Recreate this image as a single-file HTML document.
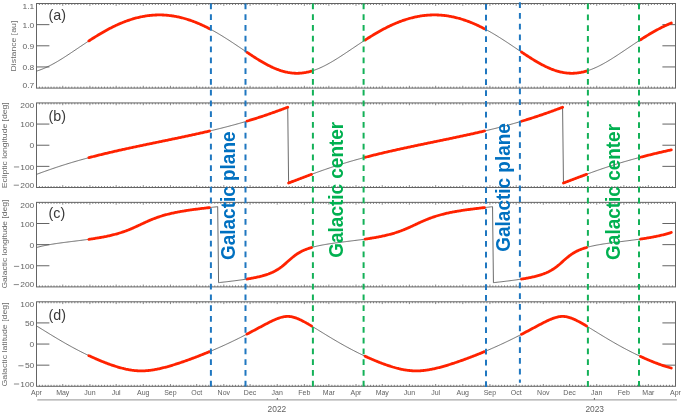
<!DOCTYPE html>
<html><head><meta charset="utf-8"><style>html,body{margin:0;padding:0;background:#fff;}svg{display:block;will-change:transform;}</style></head>
<body>
<svg width="685" height="413" viewBox="0 0 685 413">
<rect width="685" height="413" fill="#fff"/>
<rect x="36.5" y="3.5" width="639.0" height="84.6" fill="none" stroke="#646464" stroke-width="1"/>
<path d="M39.42,3.5v1.5M39.42,88.1v-1.5M42.34,3.5v1.5M42.34,88.1v-1.5M45.25,3.5v1.5M45.25,88.1v-1.5M48.17,3.5v1.5M48.17,88.1v-1.5M51.09,3.5v1.5M51.09,88.1v-1.5M54.01,3.5v1.5M54.01,88.1v-1.5M56.92,3.5v1.5M56.92,88.1v-1.5M59.84,3.5v1.5M59.84,88.1v-1.5M62.76,3.5v2.3M62.76,88.1v-2.3M65.78,3.5v1.5M65.78,88.1v-1.5M68.79,3.5v1.5M68.79,88.1v-1.5M71.81,3.5v1.5M71.81,88.1v-1.5M74.82,3.5v1.5M74.82,88.1v-1.5M77.84,3.5v1.5M77.84,88.1v-1.5M80.85,3.5v1.5M80.85,88.1v-1.5M83.87,3.5v1.5M83.87,88.1v-1.5M86.88,3.5v1.5M86.88,88.1v-1.5M89.90,3.5v2.3M89.90,88.1v-2.3M92.81,3.5v1.5M92.81,88.1v-1.5M95.73,3.5v1.5M95.73,88.1v-1.5M98.65,3.5v1.5M98.65,88.1v-1.5M101.57,3.5v1.5M101.57,88.1v-1.5M104.48,3.5v1.5M104.48,88.1v-1.5M107.40,3.5v1.5M107.40,88.1v-1.5M110.32,3.5v1.5M110.32,88.1v-1.5M113.24,3.5v1.5M113.24,88.1v-1.5M116.16,3.5v2.3M116.16,88.1v-2.3M119.17,3.5v1.5M119.17,88.1v-1.5M122.19,3.5v1.5M122.19,88.1v-1.5M125.20,3.5v1.5M125.20,88.1v-1.5M128.22,3.5v1.5M128.22,88.1v-1.5M131.23,3.5v1.5M131.23,88.1v-1.5M134.25,3.5v1.5M134.25,88.1v-1.5M137.26,3.5v1.5M137.26,88.1v-1.5M140.28,3.5v1.5M140.28,88.1v-1.5M143.29,3.5v2.3M143.29,88.1v-2.3M146.31,3.5v1.5M146.31,88.1v-1.5M149.32,3.5v1.5M149.32,88.1v-1.5M152.34,3.5v1.5M152.34,88.1v-1.5M155.35,3.5v1.5M155.35,88.1v-1.5M158.37,3.5v1.5M158.37,88.1v-1.5M161.38,3.5v1.5M161.38,88.1v-1.5M164.40,3.5v1.5M164.40,88.1v-1.5M167.41,3.5v1.5M167.41,88.1v-1.5M170.43,3.5v2.3M170.43,88.1v-2.3M173.35,3.5v1.5M173.35,88.1v-1.5M176.26,3.5v1.5M176.26,88.1v-1.5M179.18,3.5v1.5M179.18,88.1v-1.5M182.10,3.5v1.5M182.10,88.1v-1.5M185.02,3.5v1.5M185.02,88.1v-1.5M187.93,3.5v1.5M187.93,88.1v-1.5M190.85,3.5v1.5M190.85,88.1v-1.5M193.77,3.5v1.5M193.77,88.1v-1.5M196.69,3.5v2.3M196.69,88.1v-2.3M199.70,3.5v1.5M199.70,88.1v-1.5M202.72,3.5v1.5M202.72,88.1v-1.5M205.73,3.5v1.5M205.73,88.1v-1.5M208.75,3.5v1.5M208.75,88.1v-1.5M211.76,3.5v1.5M211.76,88.1v-1.5M214.78,3.5v1.5M214.78,88.1v-1.5M217.79,3.5v1.5M217.79,88.1v-1.5M220.81,3.5v1.5M220.81,88.1v-1.5M223.82,3.5v2.3M223.82,88.1v-2.3M226.74,3.5v1.5M226.74,88.1v-1.5M229.66,3.5v1.5M229.66,88.1v-1.5M232.58,3.5v1.5M232.58,88.1v-1.5M235.49,3.5v1.5M235.49,88.1v-1.5M238.41,3.5v1.5M238.41,88.1v-1.5M241.33,3.5v1.5M241.33,88.1v-1.5M244.25,3.5v1.5M244.25,88.1v-1.5M247.17,3.5v1.5M247.17,88.1v-1.5M250.08,3.5v2.3M250.08,88.1v-2.3M253.10,3.5v1.5M253.10,88.1v-1.5M256.11,3.5v1.5M256.11,88.1v-1.5M259.13,3.5v1.5M259.13,88.1v-1.5M262.14,3.5v1.5M262.14,88.1v-1.5M265.16,3.5v1.5M265.16,88.1v-1.5M268.17,3.5v1.5M268.17,88.1v-1.5M271.19,3.5v1.5M271.19,88.1v-1.5M274.20,3.5v1.5M274.20,88.1v-1.5M277.22,3.5v2.3M277.22,88.1v-2.3M280.23,3.5v1.5M280.23,88.1v-1.5M283.25,3.5v1.5M283.25,88.1v-1.5M286.26,3.5v1.5M286.26,88.1v-1.5M289.28,3.5v1.5M289.28,88.1v-1.5M292.29,3.5v1.5M292.29,88.1v-1.5M295.31,3.5v1.5M295.31,88.1v-1.5M298.32,3.5v1.5M298.32,88.1v-1.5M301.34,3.5v1.5M301.34,88.1v-1.5M304.35,3.5v2.3M304.35,88.1v-2.3M307.08,3.5v1.5M307.08,88.1v-1.5M309.80,3.5v1.5M309.80,88.1v-1.5M312.52,3.5v1.5M312.52,88.1v-1.5M315.25,3.5v1.5M315.25,88.1v-1.5M317.97,3.5v1.5M317.97,88.1v-1.5M320.69,3.5v1.5M320.69,88.1v-1.5M323.42,3.5v1.5M323.42,88.1v-1.5M326.14,3.5v1.5M326.14,88.1v-1.5M328.86,3.5v2.3M328.86,88.1v-2.3M331.88,3.5v1.5M331.88,88.1v-1.5M334.89,3.5v1.5M334.89,88.1v-1.5M337.91,3.5v1.5M337.91,88.1v-1.5M340.92,3.5v1.5M340.92,88.1v-1.5M343.94,3.5v1.5M343.94,88.1v-1.5M346.95,3.5v1.5M346.95,88.1v-1.5M349.97,3.5v1.5M349.97,88.1v-1.5M352.98,3.5v1.5M352.98,88.1v-1.5M356.00,3.5v2.3M356.00,88.1v-2.3M358.92,3.5v1.5M358.92,88.1v-1.5M361.84,3.5v1.5M361.84,88.1v-1.5M364.75,3.5v1.5M364.75,88.1v-1.5M367.67,3.5v1.5M367.67,88.1v-1.5M370.59,3.5v1.5M370.59,88.1v-1.5M373.51,3.5v1.5M373.51,88.1v-1.5M376.42,3.5v1.5M376.42,88.1v-1.5M379.34,3.5v1.5M379.34,88.1v-1.5M382.26,3.5v2.3M382.26,88.1v-2.3M385.28,3.5v1.5M385.28,88.1v-1.5M388.29,3.5v1.5M388.29,88.1v-1.5M391.31,3.5v1.5M391.31,88.1v-1.5M394.32,3.5v1.5M394.32,88.1v-1.5M397.34,3.5v1.5M397.34,88.1v-1.5M400.35,3.5v1.5M400.35,88.1v-1.5M403.37,3.5v1.5M403.37,88.1v-1.5M406.38,3.5v1.5M406.38,88.1v-1.5M409.40,3.5v2.3M409.40,88.1v-2.3M412.31,3.5v1.5M412.31,88.1v-1.5M415.23,3.5v1.5M415.23,88.1v-1.5M418.15,3.5v1.5M418.15,88.1v-1.5M421.07,3.5v1.5M421.07,88.1v-1.5M423.98,3.5v1.5M423.98,88.1v-1.5M426.90,3.5v1.5M426.90,88.1v-1.5M429.82,3.5v1.5M429.82,88.1v-1.5M432.74,3.5v1.5M432.74,88.1v-1.5M435.66,3.5v2.3M435.66,88.1v-2.3M438.67,3.5v1.5M438.67,88.1v-1.5M441.69,3.5v1.5M441.69,88.1v-1.5M444.70,3.5v1.5M444.70,88.1v-1.5M447.72,3.5v1.5M447.72,88.1v-1.5M450.73,3.5v1.5M450.73,88.1v-1.5M453.75,3.5v1.5M453.75,88.1v-1.5M456.76,3.5v1.5M456.76,88.1v-1.5M459.78,3.5v1.5M459.78,88.1v-1.5M462.79,3.5v2.3M462.79,88.1v-2.3M465.81,3.5v1.5M465.81,88.1v-1.5M468.82,3.5v1.5M468.82,88.1v-1.5M471.84,3.5v1.5M471.84,88.1v-1.5M474.85,3.5v1.5M474.85,88.1v-1.5M477.87,3.5v1.5M477.87,88.1v-1.5M480.88,3.5v1.5M480.88,88.1v-1.5M483.90,3.5v1.5M483.90,88.1v-1.5M486.91,3.5v1.5M486.91,88.1v-1.5M489.93,3.5v2.3M489.93,88.1v-2.3M492.85,3.5v1.5M492.85,88.1v-1.5M495.76,3.5v1.5M495.76,88.1v-1.5M498.68,3.5v1.5M498.68,88.1v-1.5M501.60,3.5v1.5M501.60,88.1v-1.5M504.52,3.5v1.5M504.52,88.1v-1.5M507.43,3.5v1.5M507.43,88.1v-1.5M510.35,3.5v1.5M510.35,88.1v-1.5M513.27,3.5v1.5M513.27,88.1v-1.5M516.19,3.5v2.3M516.19,88.1v-2.3M519.20,3.5v1.5M519.20,88.1v-1.5M522.22,3.5v1.5M522.22,88.1v-1.5M525.23,3.5v1.5M525.23,88.1v-1.5M528.25,3.5v1.5M528.25,88.1v-1.5M531.26,3.5v1.5M531.26,88.1v-1.5M534.28,3.5v1.5M534.28,88.1v-1.5M537.29,3.5v1.5M537.29,88.1v-1.5M540.31,3.5v1.5M540.31,88.1v-1.5M543.32,3.5v2.3M543.32,88.1v-2.3M546.24,3.5v1.5M546.24,88.1v-1.5M549.16,3.5v1.5M549.16,88.1v-1.5M552.08,3.5v1.5M552.08,88.1v-1.5M554.99,3.5v1.5M554.99,88.1v-1.5M557.91,3.5v1.5M557.91,88.1v-1.5M560.83,3.5v1.5M560.83,88.1v-1.5M563.75,3.5v1.5M563.75,88.1v-1.5M566.67,3.5v1.5M566.67,88.1v-1.5M569.58,3.5v2.3M569.58,88.1v-2.3M572.60,3.5v1.5M572.60,88.1v-1.5M575.61,3.5v1.5M575.61,88.1v-1.5M578.63,3.5v1.5M578.63,88.1v-1.5M581.64,3.5v1.5M581.64,88.1v-1.5M584.66,3.5v1.5M584.66,88.1v-1.5M587.67,3.5v1.5M587.67,88.1v-1.5M590.69,3.5v1.5M590.69,88.1v-1.5M593.70,3.5v1.5M593.70,88.1v-1.5M596.72,3.5v2.3M596.72,88.1v-2.3M599.73,3.5v1.5M599.73,88.1v-1.5M602.75,3.5v1.5M602.75,88.1v-1.5M605.76,3.5v1.5M605.76,88.1v-1.5M608.78,3.5v1.5M608.78,88.1v-1.5M611.79,3.5v1.5M611.79,88.1v-1.5M614.81,3.5v1.5M614.81,88.1v-1.5M617.82,3.5v1.5M617.82,88.1v-1.5M620.84,3.5v1.5M620.84,88.1v-1.5M623.85,3.5v2.3M623.85,88.1v-2.3M626.58,3.5v1.5M626.58,88.1v-1.5M629.30,3.5v1.5M629.30,88.1v-1.5M632.02,3.5v1.5M632.02,88.1v-1.5M634.75,3.5v1.5M634.75,88.1v-1.5M637.47,3.5v1.5M637.47,88.1v-1.5M640.19,3.5v1.5M640.19,88.1v-1.5M642.92,3.5v1.5M642.92,88.1v-1.5M645.64,3.5v1.5M645.64,88.1v-1.5M648.36,3.5v2.3M648.36,88.1v-2.3M651.38,3.5v1.5M651.38,88.1v-1.5M654.39,3.5v1.5M654.39,88.1v-1.5M657.41,3.5v1.5M657.41,88.1v-1.5M660.42,3.5v1.5M660.42,88.1v-1.5M663.44,3.5v1.5M663.44,88.1v-1.5M666.45,3.5v1.5M666.45,88.1v-1.5M669.47,3.5v1.5M669.47,88.1v-1.5M672.48,3.5v1.5M672.48,88.1v-1.5" stroke="#646464" stroke-width="0.8" fill="none"/>
<path d="M36.5,24.65h12.9M675.5,24.65h-13.1M36.5,45.80h12.9M675.5,45.80h-13.1M36.5,66.95h12.9M675.5,66.95h-13.1" stroke="#646464" stroke-width="1" fill="none"/>
<rect x="36.5" y="102.93" width="639.0" height="84.57" fill="none" stroke="#646464" stroke-width="1"/>
<path d="M39.42,102.93v1.5M39.42,187.5v-1.5M42.34,102.93v1.5M42.34,187.5v-1.5M45.25,102.93v1.5M45.25,187.5v-1.5M48.17,102.93v1.5M48.17,187.5v-1.5M51.09,102.93v1.5M51.09,187.5v-1.5M54.01,102.93v1.5M54.01,187.5v-1.5M56.92,102.93v1.5M56.92,187.5v-1.5M59.84,102.93v1.5M59.84,187.5v-1.5M62.76,102.93v2.3M62.76,187.5v-2.3M65.78,102.93v1.5M65.78,187.5v-1.5M68.79,102.93v1.5M68.79,187.5v-1.5M71.81,102.93v1.5M71.81,187.5v-1.5M74.82,102.93v1.5M74.82,187.5v-1.5M77.84,102.93v1.5M77.84,187.5v-1.5M80.85,102.93v1.5M80.85,187.5v-1.5M83.87,102.93v1.5M83.87,187.5v-1.5M86.88,102.93v1.5M86.88,187.5v-1.5M89.90,102.93v2.3M89.90,187.5v-2.3M92.81,102.93v1.5M92.81,187.5v-1.5M95.73,102.93v1.5M95.73,187.5v-1.5M98.65,102.93v1.5M98.65,187.5v-1.5M101.57,102.93v1.5M101.57,187.5v-1.5M104.48,102.93v1.5M104.48,187.5v-1.5M107.40,102.93v1.5M107.40,187.5v-1.5M110.32,102.93v1.5M110.32,187.5v-1.5M113.24,102.93v1.5M113.24,187.5v-1.5M116.16,102.93v2.3M116.16,187.5v-2.3M119.17,102.93v1.5M119.17,187.5v-1.5M122.19,102.93v1.5M122.19,187.5v-1.5M125.20,102.93v1.5M125.20,187.5v-1.5M128.22,102.93v1.5M128.22,187.5v-1.5M131.23,102.93v1.5M131.23,187.5v-1.5M134.25,102.93v1.5M134.25,187.5v-1.5M137.26,102.93v1.5M137.26,187.5v-1.5M140.28,102.93v1.5M140.28,187.5v-1.5M143.29,102.93v2.3M143.29,187.5v-2.3M146.31,102.93v1.5M146.31,187.5v-1.5M149.32,102.93v1.5M149.32,187.5v-1.5M152.34,102.93v1.5M152.34,187.5v-1.5M155.35,102.93v1.5M155.35,187.5v-1.5M158.37,102.93v1.5M158.37,187.5v-1.5M161.38,102.93v1.5M161.38,187.5v-1.5M164.40,102.93v1.5M164.40,187.5v-1.5M167.41,102.93v1.5M167.41,187.5v-1.5M170.43,102.93v2.3M170.43,187.5v-2.3M173.35,102.93v1.5M173.35,187.5v-1.5M176.26,102.93v1.5M176.26,187.5v-1.5M179.18,102.93v1.5M179.18,187.5v-1.5M182.10,102.93v1.5M182.10,187.5v-1.5M185.02,102.93v1.5M185.02,187.5v-1.5M187.93,102.93v1.5M187.93,187.5v-1.5M190.85,102.93v1.5M190.85,187.5v-1.5M193.77,102.93v1.5M193.77,187.5v-1.5M196.69,102.93v2.3M196.69,187.5v-2.3M199.70,102.93v1.5M199.70,187.5v-1.5M202.72,102.93v1.5M202.72,187.5v-1.5M205.73,102.93v1.5M205.73,187.5v-1.5M208.75,102.93v1.5M208.75,187.5v-1.5M211.76,102.93v1.5M211.76,187.5v-1.5M214.78,102.93v1.5M214.78,187.5v-1.5M217.79,102.93v1.5M217.79,187.5v-1.5M220.81,102.93v1.5M220.81,187.5v-1.5M223.82,102.93v2.3M223.82,187.5v-2.3M226.74,102.93v1.5M226.74,187.5v-1.5M229.66,102.93v1.5M229.66,187.5v-1.5M232.58,102.93v1.5M232.58,187.5v-1.5M235.49,102.93v1.5M235.49,187.5v-1.5M238.41,102.93v1.5M238.41,187.5v-1.5M241.33,102.93v1.5M241.33,187.5v-1.5M244.25,102.93v1.5M244.25,187.5v-1.5M247.17,102.93v1.5M247.17,187.5v-1.5M250.08,102.93v2.3M250.08,187.5v-2.3M253.10,102.93v1.5M253.10,187.5v-1.5M256.11,102.93v1.5M256.11,187.5v-1.5M259.13,102.93v1.5M259.13,187.5v-1.5M262.14,102.93v1.5M262.14,187.5v-1.5M265.16,102.93v1.5M265.16,187.5v-1.5M268.17,102.93v1.5M268.17,187.5v-1.5M271.19,102.93v1.5M271.19,187.5v-1.5M274.20,102.93v1.5M274.20,187.5v-1.5M277.22,102.93v2.3M277.22,187.5v-2.3M280.23,102.93v1.5M280.23,187.5v-1.5M283.25,102.93v1.5M283.25,187.5v-1.5M286.26,102.93v1.5M286.26,187.5v-1.5M289.28,102.93v1.5M289.28,187.5v-1.5M292.29,102.93v1.5M292.29,187.5v-1.5M295.31,102.93v1.5M295.31,187.5v-1.5M298.32,102.93v1.5M298.32,187.5v-1.5M301.34,102.93v1.5M301.34,187.5v-1.5M304.35,102.93v2.3M304.35,187.5v-2.3M307.08,102.93v1.5M307.08,187.5v-1.5M309.80,102.93v1.5M309.80,187.5v-1.5M312.52,102.93v1.5M312.52,187.5v-1.5M315.25,102.93v1.5M315.25,187.5v-1.5M317.97,102.93v1.5M317.97,187.5v-1.5M320.69,102.93v1.5M320.69,187.5v-1.5M323.42,102.93v1.5M323.42,187.5v-1.5M326.14,102.93v1.5M326.14,187.5v-1.5M328.86,102.93v2.3M328.86,187.5v-2.3M331.88,102.93v1.5M331.88,187.5v-1.5M334.89,102.93v1.5M334.89,187.5v-1.5M337.91,102.93v1.5M337.91,187.5v-1.5M340.92,102.93v1.5M340.92,187.5v-1.5M343.94,102.93v1.5M343.94,187.5v-1.5M346.95,102.93v1.5M346.95,187.5v-1.5M349.97,102.93v1.5M349.97,187.5v-1.5M352.98,102.93v1.5M352.98,187.5v-1.5M356.00,102.93v2.3M356.00,187.5v-2.3M358.92,102.93v1.5M358.92,187.5v-1.5M361.84,102.93v1.5M361.84,187.5v-1.5M364.75,102.93v1.5M364.75,187.5v-1.5M367.67,102.93v1.5M367.67,187.5v-1.5M370.59,102.93v1.5M370.59,187.5v-1.5M373.51,102.93v1.5M373.51,187.5v-1.5M376.42,102.93v1.5M376.42,187.5v-1.5M379.34,102.93v1.5M379.34,187.5v-1.5M382.26,102.93v2.3M382.26,187.5v-2.3M385.28,102.93v1.5M385.28,187.5v-1.5M388.29,102.93v1.5M388.29,187.5v-1.5M391.31,102.93v1.5M391.31,187.5v-1.5M394.32,102.93v1.5M394.32,187.5v-1.5M397.34,102.93v1.5M397.34,187.5v-1.5M400.35,102.93v1.5M400.35,187.5v-1.5M403.37,102.93v1.5M403.37,187.5v-1.5M406.38,102.93v1.5M406.38,187.5v-1.5M409.40,102.93v2.3M409.40,187.5v-2.3M412.31,102.93v1.5M412.31,187.5v-1.5M415.23,102.93v1.5M415.23,187.5v-1.5M418.15,102.93v1.5M418.15,187.5v-1.5M421.07,102.93v1.5M421.07,187.5v-1.5M423.98,102.93v1.5M423.98,187.5v-1.5M426.90,102.93v1.5M426.90,187.5v-1.5M429.82,102.93v1.5M429.82,187.5v-1.5M432.74,102.93v1.5M432.74,187.5v-1.5M435.66,102.93v2.3M435.66,187.5v-2.3M438.67,102.93v1.5M438.67,187.5v-1.5M441.69,102.93v1.5M441.69,187.5v-1.5M444.70,102.93v1.5M444.70,187.5v-1.5M447.72,102.93v1.5M447.72,187.5v-1.5M450.73,102.93v1.5M450.73,187.5v-1.5M453.75,102.93v1.5M453.75,187.5v-1.5M456.76,102.93v1.5M456.76,187.5v-1.5M459.78,102.93v1.5M459.78,187.5v-1.5M462.79,102.93v2.3M462.79,187.5v-2.3M465.81,102.93v1.5M465.81,187.5v-1.5M468.82,102.93v1.5M468.82,187.5v-1.5M471.84,102.93v1.5M471.84,187.5v-1.5M474.85,102.93v1.5M474.85,187.5v-1.5M477.87,102.93v1.5M477.87,187.5v-1.5M480.88,102.93v1.5M480.88,187.5v-1.5M483.90,102.93v1.5M483.90,187.5v-1.5M486.91,102.93v1.5M486.91,187.5v-1.5M489.93,102.93v2.3M489.93,187.5v-2.3M492.85,102.93v1.5M492.85,187.5v-1.5M495.76,102.93v1.5M495.76,187.5v-1.5M498.68,102.93v1.5M498.68,187.5v-1.5M501.60,102.93v1.5M501.60,187.5v-1.5M504.52,102.93v1.5M504.52,187.5v-1.5M507.43,102.93v1.5M507.43,187.5v-1.5M510.35,102.93v1.5M510.35,187.5v-1.5M513.27,102.93v1.5M513.27,187.5v-1.5M516.19,102.93v2.3M516.19,187.5v-2.3M519.20,102.93v1.5M519.20,187.5v-1.5M522.22,102.93v1.5M522.22,187.5v-1.5M525.23,102.93v1.5M525.23,187.5v-1.5M528.25,102.93v1.5M528.25,187.5v-1.5M531.26,102.93v1.5M531.26,187.5v-1.5M534.28,102.93v1.5M534.28,187.5v-1.5M537.29,102.93v1.5M537.29,187.5v-1.5M540.31,102.93v1.5M540.31,187.5v-1.5M543.32,102.93v2.3M543.32,187.5v-2.3M546.24,102.93v1.5M546.24,187.5v-1.5M549.16,102.93v1.5M549.16,187.5v-1.5M552.08,102.93v1.5M552.08,187.5v-1.5M554.99,102.93v1.5M554.99,187.5v-1.5M557.91,102.93v1.5M557.91,187.5v-1.5M560.83,102.93v1.5M560.83,187.5v-1.5M563.75,102.93v1.5M563.75,187.5v-1.5M566.67,102.93v1.5M566.67,187.5v-1.5M569.58,102.93v2.3M569.58,187.5v-2.3M572.60,102.93v1.5M572.60,187.5v-1.5M575.61,102.93v1.5M575.61,187.5v-1.5M578.63,102.93v1.5M578.63,187.5v-1.5M581.64,102.93v1.5M581.64,187.5v-1.5M584.66,102.93v1.5M584.66,187.5v-1.5M587.67,102.93v1.5M587.67,187.5v-1.5M590.69,102.93v1.5M590.69,187.5v-1.5M593.70,102.93v1.5M593.70,187.5v-1.5M596.72,102.93v2.3M596.72,187.5v-2.3M599.73,102.93v1.5M599.73,187.5v-1.5M602.75,102.93v1.5M602.75,187.5v-1.5M605.76,102.93v1.5M605.76,187.5v-1.5M608.78,102.93v1.5M608.78,187.5v-1.5M611.79,102.93v1.5M611.79,187.5v-1.5M614.81,102.93v1.5M614.81,187.5v-1.5M617.82,102.93v1.5M617.82,187.5v-1.5M620.84,102.93v1.5M620.84,187.5v-1.5M623.85,102.93v2.3M623.85,187.5v-2.3M626.58,102.93v1.5M626.58,187.5v-1.5M629.30,102.93v1.5M629.30,187.5v-1.5M632.02,102.93v1.5M632.02,187.5v-1.5M634.75,102.93v1.5M634.75,187.5v-1.5M637.47,102.93v1.5M637.47,187.5v-1.5M640.19,102.93v1.5M640.19,187.5v-1.5M642.92,102.93v1.5M642.92,187.5v-1.5M645.64,102.93v1.5M645.64,187.5v-1.5M648.36,102.93v2.3M648.36,187.5v-2.3M651.38,102.93v1.5M651.38,187.5v-1.5M654.39,102.93v1.5M654.39,187.5v-1.5M657.41,102.93v1.5M657.41,187.5v-1.5M660.42,102.93v1.5M660.42,187.5v-1.5M663.44,102.93v1.5M663.44,187.5v-1.5M666.45,102.93v1.5M666.45,187.5v-1.5M669.47,102.93v1.5M669.47,187.5v-1.5M672.48,102.93v1.5M672.48,187.5v-1.5" stroke="#646464" stroke-width="0.8" fill="none"/>
<path d="M36.5,124.07h12.9M675.5,124.07h-13.1M36.5,145.22h12.9M675.5,145.22h-13.1M36.5,166.36h12.9M675.5,166.36h-13.1" stroke="#646464" stroke-width="1" fill="none"/>
<rect x="36.5" y="202.36" width="639.0" height="84.53999999999996" fill="none" stroke="#646464" stroke-width="1"/>
<path d="M39.42,202.36v1.5M39.42,286.9v-1.5M42.34,202.36v1.5M42.34,286.9v-1.5M45.25,202.36v1.5M45.25,286.9v-1.5M48.17,202.36v1.5M48.17,286.9v-1.5M51.09,202.36v1.5M51.09,286.9v-1.5M54.01,202.36v1.5M54.01,286.9v-1.5M56.92,202.36v1.5M56.92,286.9v-1.5M59.84,202.36v1.5M59.84,286.9v-1.5M62.76,202.36v2.3M62.76,286.9v-2.3M65.78,202.36v1.5M65.78,286.9v-1.5M68.79,202.36v1.5M68.79,286.9v-1.5M71.81,202.36v1.5M71.81,286.9v-1.5M74.82,202.36v1.5M74.82,286.9v-1.5M77.84,202.36v1.5M77.84,286.9v-1.5M80.85,202.36v1.5M80.85,286.9v-1.5M83.87,202.36v1.5M83.87,286.9v-1.5M86.88,202.36v1.5M86.88,286.9v-1.5M89.90,202.36v2.3M89.90,286.9v-2.3M92.81,202.36v1.5M92.81,286.9v-1.5M95.73,202.36v1.5M95.73,286.9v-1.5M98.65,202.36v1.5M98.65,286.9v-1.5M101.57,202.36v1.5M101.57,286.9v-1.5M104.48,202.36v1.5M104.48,286.9v-1.5M107.40,202.36v1.5M107.40,286.9v-1.5M110.32,202.36v1.5M110.32,286.9v-1.5M113.24,202.36v1.5M113.24,286.9v-1.5M116.16,202.36v2.3M116.16,286.9v-2.3M119.17,202.36v1.5M119.17,286.9v-1.5M122.19,202.36v1.5M122.19,286.9v-1.5M125.20,202.36v1.5M125.20,286.9v-1.5M128.22,202.36v1.5M128.22,286.9v-1.5M131.23,202.36v1.5M131.23,286.9v-1.5M134.25,202.36v1.5M134.25,286.9v-1.5M137.26,202.36v1.5M137.26,286.9v-1.5M140.28,202.36v1.5M140.28,286.9v-1.5M143.29,202.36v2.3M143.29,286.9v-2.3M146.31,202.36v1.5M146.31,286.9v-1.5M149.32,202.36v1.5M149.32,286.9v-1.5M152.34,202.36v1.5M152.34,286.9v-1.5M155.35,202.36v1.5M155.35,286.9v-1.5M158.37,202.36v1.5M158.37,286.9v-1.5M161.38,202.36v1.5M161.38,286.9v-1.5M164.40,202.36v1.5M164.40,286.9v-1.5M167.41,202.36v1.5M167.41,286.9v-1.5M170.43,202.36v2.3M170.43,286.9v-2.3M173.35,202.36v1.5M173.35,286.9v-1.5M176.26,202.36v1.5M176.26,286.9v-1.5M179.18,202.36v1.5M179.18,286.9v-1.5M182.10,202.36v1.5M182.10,286.9v-1.5M185.02,202.36v1.5M185.02,286.9v-1.5M187.93,202.36v1.5M187.93,286.9v-1.5M190.85,202.36v1.5M190.85,286.9v-1.5M193.77,202.36v1.5M193.77,286.9v-1.5M196.69,202.36v2.3M196.69,286.9v-2.3M199.70,202.36v1.5M199.70,286.9v-1.5M202.72,202.36v1.5M202.72,286.9v-1.5M205.73,202.36v1.5M205.73,286.9v-1.5M208.75,202.36v1.5M208.75,286.9v-1.5M211.76,202.36v1.5M211.76,286.9v-1.5M214.78,202.36v1.5M214.78,286.9v-1.5M217.79,202.36v1.5M217.79,286.9v-1.5M220.81,202.36v1.5M220.81,286.9v-1.5M223.82,202.36v2.3M223.82,286.9v-2.3M226.74,202.36v1.5M226.74,286.9v-1.5M229.66,202.36v1.5M229.66,286.9v-1.5M232.58,202.36v1.5M232.58,286.9v-1.5M235.49,202.36v1.5M235.49,286.9v-1.5M238.41,202.36v1.5M238.41,286.9v-1.5M241.33,202.36v1.5M241.33,286.9v-1.5M244.25,202.36v1.5M244.25,286.9v-1.5M247.17,202.36v1.5M247.17,286.9v-1.5M250.08,202.36v2.3M250.08,286.9v-2.3M253.10,202.36v1.5M253.10,286.9v-1.5M256.11,202.36v1.5M256.11,286.9v-1.5M259.13,202.36v1.5M259.13,286.9v-1.5M262.14,202.36v1.5M262.14,286.9v-1.5M265.16,202.36v1.5M265.16,286.9v-1.5M268.17,202.36v1.5M268.17,286.9v-1.5M271.19,202.36v1.5M271.19,286.9v-1.5M274.20,202.36v1.5M274.20,286.9v-1.5M277.22,202.36v2.3M277.22,286.9v-2.3M280.23,202.36v1.5M280.23,286.9v-1.5M283.25,202.36v1.5M283.25,286.9v-1.5M286.26,202.36v1.5M286.26,286.9v-1.5M289.28,202.36v1.5M289.28,286.9v-1.5M292.29,202.36v1.5M292.29,286.9v-1.5M295.31,202.36v1.5M295.31,286.9v-1.5M298.32,202.36v1.5M298.32,286.9v-1.5M301.34,202.36v1.5M301.34,286.9v-1.5M304.35,202.36v2.3M304.35,286.9v-2.3M307.08,202.36v1.5M307.08,286.9v-1.5M309.80,202.36v1.5M309.80,286.9v-1.5M312.52,202.36v1.5M312.52,286.9v-1.5M315.25,202.36v1.5M315.25,286.9v-1.5M317.97,202.36v1.5M317.97,286.9v-1.5M320.69,202.36v1.5M320.69,286.9v-1.5M323.42,202.36v1.5M323.42,286.9v-1.5M326.14,202.36v1.5M326.14,286.9v-1.5M328.86,202.36v2.3M328.86,286.9v-2.3M331.88,202.36v1.5M331.88,286.9v-1.5M334.89,202.36v1.5M334.89,286.9v-1.5M337.91,202.36v1.5M337.91,286.9v-1.5M340.92,202.36v1.5M340.92,286.9v-1.5M343.94,202.36v1.5M343.94,286.9v-1.5M346.95,202.36v1.5M346.95,286.9v-1.5M349.97,202.36v1.5M349.97,286.9v-1.5M352.98,202.36v1.5M352.98,286.9v-1.5M356.00,202.36v2.3M356.00,286.9v-2.3M358.92,202.36v1.5M358.92,286.9v-1.5M361.84,202.36v1.5M361.84,286.9v-1.5M364.75,202.36v1.5M364.75,286.9v-1.5M367.67,202.36v1.5M367.67,286.9v-1.5M370.59,202.36v1.5M370.59,286.9v-1.5M373.51,202.36v1.5M373.51,286.9v-1.5M376.42,202.36v1.5M376.42,286.9v-1.5M379.34,202.36v1.5M379.34,286.9v-1.5M382.26,202.36v2.3M382.26,286.9v-2.3M385.28,202.36v1.5M385.28,286.9v-1.5M388.29,202.36v1.5M388.29,286.9v-1.5M391.31,202.36v1.5M391.31,286.9v-1.5M394.32,202.36v1.5M394.32,286.9v-1.5M397.34,202.36v1.5M397.34,286.9v-1.5M400.35,202.36v1.5M400.35,286.9v-1.5M403.37,202.36v1.5M403.37,286.9v-1.5M406.38,202.36v1.5M406.38,286.9v-1.5M409.40,202.36v2.3M409.40,286.9v-2.3M412.31,202.36v1.5M412.31,286.9v-1.5M415.23,202.36v1.5M415.23,286.9v-1.5M418.15,202.36v1.5M418.15,286.9v-1.5M421.07,202.36v1.5M421.07,286.9v-1.5M423.98,202.36v1.5M423.98,286.9v-1.5M426.90,202.36v1.5M426.90,286.9v-1.5M429.82,202.36v1.5M429.82,286.9v-1.5M432.74,202.36v1.5M432.74,286.9v-1.5M435.66,202.36v2.3M435.66,286.9v-2.3M438.67,202.36v1.5M438.67,286.9v-1.5M441.69,202.36v1.5M441.69,286.9v-1.5M444.70,202.36v1.5M444.70,286.9v-1.5M447.72,202.36v1.5M447.72,286.9v-1.5M450.73,202.36v1.5M450.73,286.9v-1.5M453.75,202.36v1.5M453.75,286.9v-1.5M456.76,202.36v1.5M456.76,286.9v-1.5M459.78,202.36v1.5M459.78,286.9v-1.5M462.79,202.36v2.3M462.79,286.9v-2.3M465.81,202.36v1.5M465.81,286.9v-1.5M468.82,202.36v1.5M468.82,286.9v-1.5M471.84,202.36v1.5M471.84,286.9v-1.5M474.85,202.36v1.5M474.85,286.9v-1.5M477.87,202.36v1.5M477.87,286.9v-1.5M480.88,202.36v1.5M480.88,286.9v-1.5M483.90,202.36v1.5M483.90,286.9v-1.5M486.91,202.36v1.5M486.91,286.9v-1.5M489.93,202.36v2.3M489.93,286.9v-2.3M492.85,202.36v1.5M492.85,286.9v-1.5M495.76,202.36v1.5M495.76,286.9v-1.5M498.68,202.36v1.5M498.68,286.9v-1.5M501.60,202.36v1.5M501.60,286.9v-1.5M504.52,202.36v1.5M504.52,286.9v-1.5M507.43,202.36v1.5M507.43,286.9v-1.5M510.35,202.36v1.5M510.35,286.9v-1.5M513.27,202.36v1.5M513.27,286.9v-1.5M516.19,202.36v2.3M516.19,286.9v-2.3M519.20,202.36v1.5M519.20,286.9v-1.5M522.22,202.36v1.5M522.22,286.9v-1.5M525.23,202.36v1.5M525.23,286.9v-1.5M528.25,202.36v1.5M528.25,286.9v-1.5M531.26,202.36v1.5M531.26,286.9v-1.5M534.28,202.36v1.5M534.28,286.9v-1.5M537.29,202.36v1.5M537.29,286.9v-1.5M540.31,202.36v1.5M540.31,286.9v-1.5M543.32,202.36v2.3M543.32,286.9v-2.3M546.24,202.36v1.5M546.24,286.9v-1.5M549.16,202.36v1.5M549.16,286.9v-1.5M552.08,202.36v1.5M552.08,286.9v-1.5M554.99,202.36v1.5M554.99,286.9v-1.5M557.91,202.36v1.5M557.91,286.9v-1.5M560.83,202.36v1.5M560.83,286.9v-1.5M563.75,202.36v1.5M563.75,286.9v-1.5M566.67,202.36v1.5M566.67,286.9v-1.5M569.58,202.36v2.3M569.58,286.9v-2.3M572.60,202.36v1.5M572.60,286.9v-1.5M575.61,202.36v1.5M575.61,286.9v-1.5M578.63,202.36v1.5M578.63,286.9v-1.5M581.64,202.36v1.5M581.64,286.9v-1.5M584.66,202.36v1.5M584.66,286.9v-1.5M587.67,202.36v1.5M587.67,286.9v-1.5M590.69,202.36v1.5M590.69,286.9v-1.5M593.70,202.36v1.5M593.70,286.9v-1.5M596.72,202.36v2.3M596.72,286.9v-2.3M599.73,202.36v1.5M599.73,286.9v-1.5M602.75,202.36v1.5M602.75,286.9v-1.5M605.76,202.36v1.5M605.76,286.9v-1.5M608.78,202.36v1.5M608.78,286.9v-1.5M611.79,202.36v1.5M611.79,286.9v-1.5M614.81,202.36v1.5M614.81,286.9v-1.5M617.82,202.36v1.5M617.82,286.9v-1.5M620.84,202.36v1.5M620.84,286.9v-1.5M623.85,202.36v2.3M623.85,286.9v-2.3M626.58,202.36v1.5M626.58,286.9v-1.5M629.30,202.36v1.5M629.30,286.9v-1.5M632.02,202.36v1.5M632.02,286.9v-1.5M634.75,202.36v1.5M634.75,286.9v-1.5M637.47,202.36v1.5M637.47,286.9v-1.5M640.19,202.36v1.5M640.19,286.9v-1.5M642.92,202.36v1.5M642.92,286.9v-1.5M645.64,202.36v1.5M645.64,286.9v-1.5M648.36,202.36v2.3M648.36,286.9v-2.3M651.38,202.36v1.5M651.38,286.9v-1.5M654.39,202.36v1.5M654.39,286.9v-1.5M657.41,202.36v1.5M657.41,286.9v-1.5M660.42,202.36v1.5M660.42,286.9v-1.5M663.44,202.36v1.5M663.44,286.9v-1.5M666.45,202.36v1.5M666.45,286.9v-1.5M669.47,202.36v1.5M669.47,286.9v-1.5M672.48,202.36v1.5M672.48,286.9v-1.5" stroke="#646464" stroke-width="0.8" fill="none"/>
<path d="M36.5,223.50h12.9M675.5,223.50h-13.1M36.5,244.63h12.9M675.5,244.63h-13.1M36.5,265.76h12.9M675.5,265.76h-13.1" stroke="#646464" stroke-width="1" fill="none"/>
<rect x="36.5" y="301.79" width="639.0" height="84.51000000000005" fill="none" stroke="#646464" stroke-width="1"/>
<path d="M39.42,301.79v1.5M39.42,386.30000000000007v-1.5M42.34,301.79v1.5M42.34,386.30000000000007v-1.5M45.25,301.79v1.5M45.25,386.30000000000007v-1.5M48.17,301.79v1.5M48.17,386.30000000000007v-1.5M51.09,301.79v1.5M51.09,386.30000000000007v-1.5M54.01,301.79v1.5M54.01,386.30000000000007v-1.5M56.92,301.79v1.5M56.92,386.30000000000007v-1.5M59.84,301.79v1.5M59.84,386.30000000000007v-1.5M62.76,301.79v2.3M62.76,386.30000000000007v-2.3M65.78,301.79v1.5M65.78,386.30000000000007v-1.5M68.79,301.79v1.5M68.79,386.30000000000007v-1.5M71.81,301.79v1.5M71.81,386.30000000000007v-1.5M74.82,301.79v1.5M74.82,386.30000000000007v-1.5M77.84,301.79v1.5M77.84,386.30000000000007v-1.5M80.85,301.79v1.5M80.85,386.30000000000007v-1.5M83.87,301.79v1.5M83.87,386.30000000000007v-1.5M86.88,301.79v1.5M86.88,386.30000000000007v-1.5M89.90,301.79v2.3M89.90,386.30000000000007v-2.3M92.81,301.79v1.5M92.81,386.30000000000007v-1.5M95.73,301.79v1.5M95.73,386.30000000000007v-1.5M98.65,301.79v1.5M98.65,386.30000000000007v-1.5M101.57,301.79v1.5M101.57,386.30000000000007v-1.5M104.48,301.79v1.5M104.48,386.30000000000007v-1.5M107.40,301.79v1.5M107.40,386.30000000000007v-1.5M110.32,301.79v1.5M110.32,386.30000000000007v-1.5M113.24,301.79v1.5M113.24,386.30000000000007v-1.5M116.16,301.79v2.3M116.16,386.30000000000007v-2.3M119.17,301.79v1.5M119.17,386.30000000000007v-1.5M122.19,301.79v1.5M122.19,386.30000000000007v-1.5M125.20,301.79v1.5M125.20,386.30000000000007v-1.5M128.22,301.79v1.5M128.22,386.30000000000007v-1.5M131.23,301.79v1.5M131.23,386.30000000000007v-1.5M134.25,301.79v1.5M134.25,386.30000000000007v-1.5M137.26,301.79v1.5M137.26,386.30000000000007v-1.5M140.28,301.79v1.5M140.28,386.30000000000007v-1.5M143.29,301.79v2.3M143.29,386.30000000000007v-2.3M146.31,301.79v1.5M146.31,386.30000000000007v-1.5M149.32,301.79v1.5M149.32,386.30000000000007v-1.5M152.34,301.79v1.5M152.34,386.30000000000007v-1.5M155.35,301.79v1.5M155.35,386.30000000000007v-1.5M158.37,301.79v1.5M158.37,386.30000000000007v-1.5M161.38,301.79v1.5M161.38,386.30000000000007v-1.5M164.40,301.79v1.5M164.40,386.30000000000007v-1.5M167.41,301.79v1.5M167.41,386.30000000000007v-1.5M170.43,301.79v2.3M170.43,386.30000000000007v-2.3M173.35,301.79v1.5M173.35,386.30000000000007v-1.5M176.26,301.79v1.5M176.26,386.30000000000007v-1.5M179.18,301.79v1.5M179.18,386.30000000000007v-1.5M182.10,301.79v1.5M182.10,386.30000000000007v-1.5M185.02,301.79v1.5M185.02,386.30000000000007v-1.5M187.93,301.79v1.5M187.93,386.30000000000007v-1.5M190.85,301.79v1.5M190.85,386.30000000000007v-1.5M193.77,301.79v1.5M193.77,386.30000000000007v-1.5M196.69,301.79v2.3M196.69,386.30000000000007v-2.3M199.70,301.79v1.5M199.70,386.30000000000007v-1.5M202.72,301.79v1.5M202.72,386.30000000000007v-1.5M205.73,301.79v1.5M205.73,386.30000000000007v-1.5M208.75,301.79v1.5M208.75,386.30000000000007v-1.5M211.76,301.79v1.5M211.76,386.30000000000007v-1.5M214.78,301.79v1.5M214.78,386.30000000000007v-1.5M217.79,301.79v1.5M217.79,386.30000000000007v-1.5M220.81,301.79v1.5M220.81,386.30000000000007v-1.5M223.82,301.79v2.3M223.82,386.30000000000007v-2.3M226.74,301.79v1.5M226.74,386.30000000000007v-1.5M229.66,301.79v1.5M229.66,386.30000000000007v-1.5M232.58,301.79v1.5M232.58,386.30000000000007v-1.5M235.49,301.79v1.5M235.49,386.30000000000007v-1.5M238.41,301.79v1.5M238.41,386.30000000000007v-1.5M241.33,301.79v1.5M241.33,386.30000000000007v-1.5M244.25,301.79v1.5M244.25,386.30000000000007v-1.5M247.17,301.79v1.5M247.17,386.30000000000007v-1.5M250.08,301.79v2.3M250.08,386.30000000000007v-2.3M253.10,301.79v1.5M253.10,386.30000000000007v-1.5M256.11,301.79v1.5M256.11,386.30000000000007v-1.5M259.13,301.79v1.5M259.13,386.30000000000007v-1.5M262.14,301.79v1.5M262.14,386.30000000000007v-1.5M265.16,301.79v1.5M265.16,386.30000000000007v-1.5M268.17,301.79v1.5M268.17,386.30000000000007v-1.5M271.19,301.79v1.5M271.19,386.30000000000007v-1.5M274.20,301.79v1.5M274.20,386.30000000000007v-1.5M277.22,301.79v2.3M277.22,386.30000000000007v-2.3M280.23,301.79v1.5M280.23,386.30000000000007v-1.5M283.25,301.79v1.5M283.25,386.30000000000007v-1.5M286.26,301.79v1.5M286.26,386.30000000000007v-1.5M289.28,301.79v1.5M289.28,386.30000000000007v-1.5M292.29,301.79v1.5M292.29,386.30000000000007v-1.5M295.31,301.79v1.5M295.31,386.30000000000007v-1.5M298.32,301.79v1.5M298.32,386.30000000000007v-1.5M301.34,301.79v1.5M301.34,386.30000000000007v-1.5M304.35,301.79v2.3M304.35,386.30000000000007v-2.3M307.08,301.79v1.5M307.08,386.30000000000007v-1.5M309.80,301.79v1.5M309.80,386.30000000000007v-1.5M312.52,301.79v1.5M312.52,386.30000000000007v-1.5M315.25,301.79v1.5M315.25,386.30000000000007v-1.5M317.97,301.79v1.5M317.97,386.30000000000007v-1.5M320.69,301.79v1.5M320.69,386.30000000000007v-1.5M323.42,301.79v1.5M323.42,386.30000000000007v-1.5M326.14,301.79v1.5M326.14,386.30000000000007v-1.5M328.86,301.79v2.3M328.86,386.30000000000007v-2.3M331.88,301.79v1.5M331.88,386.30000000000007v-1.5M334.89,301.79v1.5M334.89,386.30000000000007v-1.5M337.91,301.79v1.5M337.91,386.30000000000007v-1.5M340.92,301.79v1.5M340.92,386.30000000000007v-1.5M343.94,301.79v1.5M343.94,386.30000000000007v-1.5M346.95,301.79v1.5M346.95,386.30000000000007v-1.5M349.97,301.79v1.5M349.97,386.30000000000007v-1.5M352.98,301.79v1.5M352.98,386.30000000000007v-1.5M356.00,301.79v2.3M356.00,386.30000000000007v-2.3M358.92,301.79v1.5M358.92,386.30000000000007v-1.5M361.84,301.79v1.5M361.84,386.30000000000007v-1.5M364.75,301.79v1.5M364.75,386.30000000000007v-1.5M367.67,301.79v1.5M367.67,386.30000000000007v-1.5M370.59,301.79v1.5M370.59,386.30000000000007v-1.5M373.51,301.79v1.5M373.51,386.30000000000007v-1.5M376.42,301.79v1.5M376.42,386.30000000000007v-1.5M379.34,301.79v1.5M379.34,386.30000000000007v-1.5M382.26,301.79v2.3M382.26,386.30000000000007v-2.3M385.28,301.79v1.5M385.28,386.30000000000007v-1.5M388.29,301.79v1.5M388.29,386.30000000000007v-1.5M391.31,301.79v1.5M391.31,386.30000000000007v-1.5M394.32,301.79v1.5M394.32,386.30000000000007v-1.5M397.34,301.79v1.5M397.34,386.30000000000007v-1.5M400.35,301.79v1.5M400.35,386.30000000000007v-1.5M403.37,301.79v1.5M403.37,386.30000000000007v-1.5M406.38,301.79v1.5M406.38,386.30000000000007v-1.5M409.40,301.79v2.3M409.40,386.30000000000007v-2.3M412.31,301.79v1.5M412.31,386.30000000000007v-1.5M415.23,301.79v1.5M415.23,386.30000000000007v-1.5M418.15,301.79v1.5M418.15,386.30000000000007v-1.5M421.07,301.79v1.5M421.07,386.30000000000007v-1.5M423.98,301.79v1.5M423.98,386.30000000000007v-1.5M426.90,301.79v1.5M426.90,386.30000000000007v-1.5M429.82,301.79v1.5M429.82,386.30000000000007v-1.5M432.74,301.79v1.5M432.74,386.30000000000007v-1.5M435.66,301.79v2.3M435.66,386.30000000000007v-2.3M438.67,301.79v1.5M438.67,386.30000000000007v-1.5M441.69,301.79v1.5M441.69,386.30000000000007v-1.5M444.70,301.79v1.5M444.70,386.30000000000007v-1.5M447.72,301.79v1.5M447.72,386.30000000000007v-1.5M450.73,301.79v1.5M450.73,386.30000000000007v-1.5M453.75,301.79v1.5M453.75,386.30000000000007v-1.5M456.76,301.79v1.5M456.76,386.30000000000007v-1.5M459.78,301.79v1.5M459.78,386.30000000000007v-1.5M462.79,301.79v2.3M462.79,386.30000000000007v-2.3M465.81,301.79v1.5M465.81,386.30000000000007v-1.5M468.82,301.79v1.5M468.82,386.30000000000007v-1.5M471.84,301.79v1.5M471.84,386.30000000000007v-1.5M474.85,301.79v1.5M474.85,386.30000000000007v-1.5M477.87,301.79v1.5M477.87,386.30000000000007v-1.5M480.88,301.79v1.5M480.88,386.30000000000007v-1.5M483.90,301.79v1.5M483.90,386.30000000000007v-1.5M486.91,301.79v1.5M486.91,386.30000000000007v-1.5M489.93,301.79v2.3M489.93,386.30000000000007v-2.3M492.85,301.79v1.5M492.85,386.30000000000007v-1.5M495.76,301.79v1.5M495.76,386.30000000000007v-1.5M498.68,301.79v1.5M498.68,386.30000000000007v-1.5M501.60,301.79v1.5M501.60,386.30000000000007v-1.5M504.52,301.79v1.5M504.52,386.30000000000007v-1.5M507.43,301.79v1.5M507.43,386.30000000000007v-1.5M510.35,301.79v1.5M510.35,386.30000000000007v-1.5M513.27,301.79v1.5M513.27,386.30000000000007v-1.5M516.19,301.79v2.3M516.19,386.30000000000007v-2.3M519.20,301.79v1.5M519.20,386.30000000000007v-1.5M522.22,301.79v1.5M522.22,386.30000000000007v-1.5M525.23,301.79v1.5M525.23,386.30000000000007v-1.5M528.25,301.79v1.5M528.25,386.30000000000007v-1.5M531.26,301.79v1.5M531.26,386.30000000000007v-1.5M534.28,301.79v1.5M534.28,386.30000000000007v-1.5M537.29,301.79v1.5M537.29,386.30000000000007v-1.5M540.31,301.79v1.5M540.31,386.30000000000007v-1.5M543.32,301.79v2.3M543.32,386.30000000000007v-2.3M546.24,301.79v1.5M546.24,386.30000000000007v-1.5M549.16,301.79v1.5M549.16,386.30000000000007v-1.5M552.08,301.79v1.5M552.08,386.30000000000007v-1.5M554.99,301.79v1.5M554.99,386.30000000000007v-1.5M557.91,301.79v1.5M557.91,386.30000000000007v-1.5M560.83,301.79v1.5M560.83,386.30000000000007v-1.5M563.75,301.79v1.5M563.75,386.30000000000007v-1.5M566.67,301.79v1.5M566.67,386.30000000000007v-1.5M569.58,301.79v2.3M569.58,386.30000000000007v-2.3M572.60,301.79v1.5M572.60,386.30000000000007v-1.5M575.61,301.79v1.5M575.61,386.30000000000007v-1.5M578.63,301.79v1.5M578.63,386.30000000000007v-1.5M581.64,301.79v1.5M581.64,386.30000000000007v-1.5M584.66,301.79v1.5M584.66,386.30000000000007v-1.5M587.67,301.79v1.5M587.67,386.30000000000007v-1.5M590.69,301.79v1.5M590.69,386.30000000000007v-1.5M593.70,301.79v1.5M593.70,386.30000000000007v-1.5M596.72,301.79v2.3M596.72,386.30000000000007v-2.3M599.73,301.79v1.5M599.73,386.30000000000007v-1.5M602.75,301.79v1.5M602.75,386.30000000000007v-1.5M605.76,301.79v1.5M605.76,386.30000000000007v-1.5M608.78,301.79v1.5M608.78,386.30000000000007v-1.5M611.79,301.79v1.5M611.79,386.30000000000007v-1.5M614.81,301.79v1.5M614.81,386.30000000000007v-1.5M617.82,301.79v1.5M617.82,386.30000000000007v-1.5M620.84,301.79v1.5M620.84,386.30000000000007v-1.5M623.85,301.79v2.3M623.85,386.30000000000007v-2.3M626.58,301.79v1.5M626.58,386.30000000000007v-1.5M629.30,301.79v1.5M629.30,386.30000000000007v-1.5M632.02,301.79v1.5M632.02,386.30000000000007v-1.5M634.75,301.79v1.5M634.75,386.30000000000007v-1.5M637.47,301.79v1.5M637.47,386.30000000000007v-1.5M640.19,301.79v1.5M640.19,386.30000000000007v-1.5M642.92,301.79v1.5M642.92,386.30000000000007v-1.5M645.64,301.79v1.5M645.64,386.30000000000007v-1.5M648.36,301.79v2.3M648.36,386.30000000000007v-2.3M651.38,301.79v1.5M651.38,386.30000000000007v-1.5M654.39,301.79v1.5M654.39,386.30000000000007v-1.5M657.41,301.79v1.5M657.41,386.30000000000007v-1.5M660.42,301.79v1.5M660.42,386.30000000000007v-1.5M663.44,301.79v1.5M663.44,386.30000000000007v-1.5M666.45,301.79v1.5M666.45,386.30000000000007v-1.5M669.47,301.79v1.5M669.47,386.30000000000007v-1.5M672.48,301.79v1.5M672.48,386.30000000000007v-1.5" stroke="#646464" stroke-width="0.8" fill="none"/>
<path d="M36.5,322.92h12.9M675.5,322.92h-13.1M36.5,344.05h12.9M675.5,344.05h-13.1M36.5,365.17h12.9M675.5,365.17h-13.1" stroke="#646464" stroke-width="1" fill="none"/>
<text x="34.3" y="8.80" font-family="Liberation Sans" font-size="8.0" fill="#626262" text-anchor="end" textLength="11.73" lengthAdjust="spacingAndGlyphs">1.1</text>
<text x="34.3" y="27.85" font-family="Liberation Sans" font-size="8.0" fill="#626262" text-anchor="end" textLength="11.73" lengthAdjust="spacingAndGlyphs">1.0</text>
<text x="34.3" y="49.00" font-family="Liberation Sans" font-size="8.0" fill="#626262" text-anchor="end" textLength="11.73" lengthAdjust="spacingAndGlyphs">0.9</text>
<text x="34.3" y="70.15" font-family="Liberation Sans" font-size="8.0" fill="#626262" text-anchor="end" textLength="11.73" lengthAdjust="spacingAndGlyphs">0.8</text>
<text x="34.3" y="88.40" font-family="Liberation Sans" font-size="8.0" fill="#626262" text-anchor="end" textLength="11.73" lengthAdjust="spacingAndGlyphs">0.7</text>
<text x="34.3" y="108.23" font-family="Liberation Sans" font-size="8.0" fill="#626262" text-anchor="end" textLength="14.08" lengthAdjust="spacingAndGlyphs">200</text>
<text x="34.3" y="127.27" font-family="Liberation Sans" font-size="8.0" fill="#626262" text-anchor="end" textLength="14.08" lengthAdjust="spacingAndGlyphs">100</text>
<text x="34.3" y="148.41" font-family="Liberation Sans" font-size="8.0" fill="#626262" text-anchor="end" textLength="4.69" lengthAdjust="spacingAndGlyphs">0</text>
<text x="34.3" y="169.56" font-family="Liberation Sans" font-size="8.0" fill="#626262" text-anchor="end" textLength="14.08" lengthAdjust="spacingAndGlyphs">100</text>
<path d="M13.96,166.96h5.2" stroke="#626262" stroke-width="0.75"/>
<text x="34.3" y="187.80" font-family="Liberation Sans" font-size="8.0" fill="#626262" text-anchor="end" textLength="14.08" lengthAdjust="spacingAndGlyphs">200</text>
<path d="M13.74,185.20h5.2" stroke="#626262" stroke-width="0.75"/>
<text x="34.3" y="207.66" font-family="Liberation Sans" font-size="8.0" fill="#626262" text-anchor="end" textLength="14.08" lengthAdjust="spacingAndGlyphs">200</text>
<text x="34.3" y="226.69" font-family="Liberation Sans" font-size="8.0" fill="#626262" text-anchor="end" textLength="14.08" lengthAdjust="spacingAndGlyphs">100</text>
<text x="34.3" y="247.83" font-family="Liberation Sans" font-size="8.0" fill="#626262" text-anchor="end" textLength="4.69" lengthAdjust="spacingAndGlyphs">0</text>
<text x="34.3" y="268.96" font-family="Liberation Sans" font-size="8.0" fill="#626262" text-anchor="end" textLength="14.08" lengthAdjust="spacingAndGlyphs">100</text>
<path d="M13.96,266.36h5.2" stroke="#626262" stroke-width="0.75"/>
<text x="34.3" y="287.20" font-family="Liberation Sans" font-size="8.0" fill="#626262" text-anchor="end" textLength="14.08" lengthAdjust="spacingAndGlyphs">200</text>
<path d="M13.74,284.60h5.2" stroke="#626262" stroke-width="0.75"/>
<text x="34.3" y="307.09" font-family="Liberation Sans" font-size="8.0" fill="#626262" text-anchor="end" textLength="14.08" lengthAdjust="spacingAndGlyphs">100</text>
<text x="34.3" y="326.12" font-family="Liberation Sans" font-size="8.0" fill="#626262" text-anchor="end" textLength="9.39" lengthAdjust="spacingAndGlyphs">50</text>
<text x="34.3" y="347.25" font-family="Liberation Sans" font-size="8.0" fill="#626262" text-anchor="end" textLength="4.69" lengthAdjust="spacingAndGlyphs">0</text>
<text x="34.3" y="368.37" font-family="Liberation Sans" font-size="8.0" fill="#626262" text-anchor="end" textLength="9.39" lengthAdjust="spacingAndGlyphs">50</text>
<path d="M18.35,365.77h5.2" stroke="#626262" stroke-width="0.75"/>
<text x="34.3" y="386.60" font-family="Liberation Sans" font-size="8.0" fill="#626262" text-anchor="end" textLength="14.08" lengthAdjust="spacingAndGlyphs">100</text>
<path d="M13.96,384.00h5.2" stroke="#626262" stroke-width="0.75"/>
<text transform="translate(15.8,71.41) rotate(-90)" x="0" y="0" font-family="Liberation Sans" font-size="7.6" fill="#6a6a6a" textLength="50.73" lengthAdjust="spacingAndGlyphs">Distance [au]</text>
<text transform="translate(7.2,188.31) rotate(-90)" x="0" y="0" font-family="Liberation Sans" font-size="7.6" fill="#6a6a6a" textLength="86.02" lengthAdjust="spacingAndGlyphs">Ecliptic longitude [deg]</text>
<text transform="translate(7.3,288.53) rotate(-90)" x="0" y="0" font-family="Liberation Sans" font-size="7.6" fill="#6a6a6a" textLength="88.93" lengthAdjust="spacingAndGlyphs">Galactic longitude [deg]</text>
<text transform="translate(7.4,386.54) rotate(-90)" x="0" y="0" font-family="Liberation Sans" font-size="7.6" fill="#6a6a6a" textLength="84.16" lengthAdjust="spacingAndGlyphs">Galactic latitude [deg]</text>
<text x="36.50" y="395.2" font-family="Liberation Sans" font-size="7" fill="#626262" text-anchor="middle">Apr</text>
<text x="62.76" y="395.2" font-family="Liberation Sans" font-size="7" fill="#626262" text-anchor="middle">May</text>
<text x="89.90" y="395.2" font-family="Liberation Sans" font-size="7" fill="#626262" text-anchor="middle">Jun</text>
<text x="116.16" y="395.2" font-family="Liberation Sans" font-size="7" fill="#626262" text-anchor="middle">Jul</text>
<text x="143.29" y="395.2" font-family="Liberation Sans" font-size="7" fill="#626262" text-anchor="middle">Aug</text>
<text x="170.43" y="395.2" font-family="Liberation Sans" font-size="7" fill="#626262" text-anchor="middle">Sep</text>
<text x="196.69" y="395.2" font-family="Liberation Sans" font-size="7" fill="#626262" text-anchor="middle">Oct</text>
<text x="223.82" y="395.2" font-family="Liberation Sans" font-size="7" fill="#626262" text-anchor="middle">Nov</text>
<text x="250.08" y="395.2" font-family="Liberation Sans" font-size="7" fill="#626262" text-anchor="middle">Dec</text>
<text x="277.22" y="395.2" font-family="Liberation Sans" font-size="7" fill="#626262" text-anchor="middle">Jan</text>
<text x="304.35" y="395.2" font-family="Liberation Sans" font-size="7" fill="#626262" text-anchor="middle">Feb</text>
<text x="328.86" y="395.2" font-family="Liberation Sans" font-size="7" fill="#626262" text-anchor="middle">Mar</text>
<text x="356.00" y="395.2" font-family="Liberation Sans" font-size="7" fill="#626262" text-anchor="middle">Apr</text>
<text x="382.26" y="395.2" font-family="Liberation Sans" font-size="7" fill="#626262" text-anchor="middle">May</text>
<text x="409.40" y="395.2" font-family="Liberation Sans" font-size="7" fill="#626262" text-anchor="middle">Jun</text>
<text x="435.66" y="395.2" font-family="Liberation Sans" font-size="7" fill="#626262" text-anchor="middle">Jul</text>
<text x="462.79" y="395.2" font-family="Liberation Sans" font-size="7" fill="#626262" text-anchor="middle">Aug</text>
<text x="489.93" y="395.2" font-family="Liberation Sans" font-size="7" fill="#626262" text-anchor="middle">Sep</text>
<text x="516.19" y="395.2" font-family="Liberation Sans" font-size="7" fill="#626262" text-anchor="middle">Oct</text>
<text x="543.32" y="395.2" font-family="Liberation Sans" font-size="7" fill="#626262" text-anchor="middle">Nov</text>
<text x="569.58" y="395.2" font-family="Liberation Sans" font-size="7" fill="#626262" text-anchor="middle">Dec</text>
<text x="596.72" y="395.2" font-family="Liberation Sans" font-size="7" fill="#626262" text-anchor="middle">Jan</text>
<text x="623.85" y="395.2" font-family="Liberation Sans" font-size="7" fill="#626262" text-anchor="middle">Feb</text>
<text x="648.36" y="395.2" font-family="Liberation Sans" font-size="7" fill="#626262" text-anchor="middle">Mar</text>
<text x="675.50" y="395.2" font-family="Liberation Sans" font-size="7" fill="#626262" text-anchor="middle">Apr</text>
<path d="M37.3,399.8H676.9" stroke="#a8a8a8" stroke-width="1.3"/>
<path d="M277.3,399.8v-1.8M594.4,399.8v-1.8" stroke="#555" stroke-width="0.9"/>
<text x="276.9" y="411.9" font-family="Liberation Sans" font-size="8.4" fill="#626262" text-anchor="middle">2022</text>
<text x="594.7" y="411.9" font-family="Liberation Sans" font-size="8.4" fill="#626262" text-anchor="middle">2023</text>
<text x="48.6" y="19.5" font-family="Liberation Sans" font-size="14.3" fill="#3a3a3a">(a)</text>
<text x="48.6" y="121.0" font-family="Liberation Sans" font-size="14.3" fill="#3a3a3a">(b)</text>
<text x="48.6" y="217.6" font-family="Liberation Sans" font-size="14.3" fill="#3a3a3a">(c)</text>
<text x="48.6" y="320.4" font-family="Liberation Sans" font-size="14.3" fill="#3a3a3a">(d)</text>
<path d="M36.50,71.09L37.38,70.82L38.25,70.54L39.13,70.25L40.00,69.94L40.88,69.62L41.75,69.29L42.63,68.94L43.50,68.58L44.38,68.21L45.25,67.83L46.13,67.44L47.00,67.03L47.88,66.62L48.75,66.19L49.63,65.76L50.51,65.31L51.38,64.86L52.26,64.39L53.13,63.92L54.01,63.44L54.88,62.95L55.76,62.45L56.63,61.94L57.51,61.43L58.38,60.91L59.26,60.38L60.13,59.85L61.01,59.31L61.88,58.77L62.76,58.22L63.64,57.67L64.51,57.11L65.39,56.55L66.26,55.98L67.14,55.41L68.01,54.84L68.89,54.26L69.76,53.68L70.64,53.10L71.51,52.51L72.39,51.93L73.26,51.34L74.14,50.75L75.02,50.17L75.89,49.58L76.77,48.98L77.64,48.39L78.52,47.80L79.39,47.21L80.27,46.62L81.14,46.04L82.02,45.45L82.89,44.86L83.77,44.28L84.64,43.69L85.52,43.11L86.39,42.53L87.27,41.96L88.15,41.38L89.02,40.81L89.90,40.24L90.77,39.68L91.65,39.11L92.52,38.55L93.40,38.00L94.27,37.45L95.15,36.90L96.02,36.36L96.90,35.82L97.77,35.29L98.65,34.76L99.52,34.23L100.40,33.71L101.28,33.20L102.15,32.69L103.03,32.18L103.90,31.68L104.78,31.19L105.65,30.70L106.53,30.22L107.40,29.75L108.28,29.28L109.15,28.81L110.03,28.35L110.90,27.90L111.78,27.46L112.65,27.02L113.53,26.59L114.41,26.17L115.28,25.75L116.16,25.34L117.03,24.93L117.91,24.54L118.78,24.15L119.66,23.77L120.53,23.39L121.41,23.03L122.28,22.67L123.16,22.31L124.03,21.97L124.91,21.63L125.78,21.30L126.66,20.98L127.54,20.67L128.41,20.36L129.29,20.06L130.16,19.77L131.04,19.49L131.91,19.22L132.79,18.95L133.66,18.69L134.54,18.45L135.41,18.20L136.29,17.97L137.16,17.75L138.04,17.53L138.92,17.32L139.79,17.13L140.67,16.94L141.54,16.75L142.42,16.58L143.29,16.42L144.17,16.26L145.04,16.11L145.92,15.97L146.79,15.84L147.67,15.72L148.54,15.61L149.42,15.50L150.29,15.41L151.17,15.32L152.05,15.24L152.92,15.17L153.80,15.11L154.67,15.06L155.55,15.02L156.42,14.98L157.30,14.96L158.17,14.94L159.05,14.93L159.92,14.93L160.80,14.94L161.67,14.96L162.55,14.99L163.42,15.02L164.30,15.07L165.18,15.12L166.05,15.18L166.93,15.26L167.80,15.34L168.68,15.42L169.55,15.52L170.43,15.63L171.30,15.74L172.18,15.87L173.05,16.00L173.93,16.14L174.80,16.29L175.68,16.45L176.55,16.61L177.43,16.79L178.31,16.97L179.18,17.16L180.06,17.36L180.93,17.57L181.81,17.79L182.68,18.02L183.56,18.25L184.43,18.49L185.31,18.74L186.18,19.00L187.06,19.27L187.93,19.54L188.81,19.83L189.68,20.12L190.56,20.42L191.44,20.73L192.31,21.04L193.19,21.36L194.06,21.70L194.94,22.03L195.81,22.38L196.69,22.73L197.56,23.09L198.44,23.46L199.31,23.84L200.19,24.22L201.06,24.61L201.94,25.01L202.82,25.42L203.69,25.83L204.57,26.25L205.44,26.67L206.32,27.11L207.19,27.54L208.07,27.99L208.94,28.44L209.82,28.90L210.69,29.37L211.57,29.84L212.44,30.31L213.32,30.80L214.19,31.28L215.07,31.78L215.95,32.28L216.82,32.78L217.70,33.29L218.57,33.81L219.45,34.33L220.32,34.86L221.20,35.39L222.07,35.92L222.95,36.46L223.82,37.01L224.70,37.55L225.57,38.11L226.45,38.66L227.32,39.22L228.20,39.78L229.08,40.35L229.95,40.92L230.83,41.49L231.70,42.07L232.58,42.64L233.45,43.22L234.33,43.80L235.20,44.39L236.08,44.97L236.95,45.56L237.83,46.15L238.70,46.74L239.58,47.33L240.45,47.92L241.33,48.51L242.21,49.10L243.08,49.69L243.96,50.28L244.83,50.87L245.71,51.46L246.58,52.04L247.46,52.63L248.33,53.21L249.21,53.79L250.08,54.37L250.96,54.95L251.83,55.52L252.71,56.09L253.58,56.65L254.46,57.22L255.34,57.77L256.21,58.33L257.09,58.87L257.96,59.42L258.84,59.95L259.71,60.48L260.59,61.01L261.46,61.53L262.34,62.04L263.21,62.54L264.09,63.04L264.96,63.53L265.84,64.01L266.72,64.48L267.59,64.94L268.47,65.40L269.34,65.84L270.22,66.28L271.09,66.70L271.97,67.11L272.84,67.52L273.72,67.91L274.59,68.29L275.47,68.65L276.34,69.01L277.22,69.35L278.09,69.68L278.97,70.00L279.85,70.31L280.72,70.60L281.60,70.87L282.47,71.14L283.35,71.39L284.22,71.62L285.10,71.84L285.97,72.04L286.85,72.23L287.72,72.41L288.60,72.57L289.47,72.71L290.35,72.84L291.22,72.95L292.10,73.05L292.98,73.13L293.85,73.19L294.73,73.24L295.60,73.27L296.48,73.28L297.35,73.28L298.23,73.27L299.10,73.23L299.98,73.18L300.85,73.12L301.73,73.04L302.60,72.94L303.48,72.83L304.35,72.70L305.23,72.55L306.11,72.39L306.98,72.21L307.86,72.02L308.73,71.82L309.61,71.60L310.48,71.36L311.36,71.11L312.23,70.85L313.11,70.57L313.98,70.27L314.86,69.97L315.73,69.65L316.61,69.32L317.48,68.97L318.36,68.62L319.24,68.25L320.11,67.87L320.99,67.47L321.86,67.07L322.74,66.66L323.61,66.23L324.49,65.80L325.36,65.35L326.24,64.90L327.11,64.43L327.99,63.96L328.86,63.48L329.74,62.99L330.62,62.49L331.49,61.99L332.37,61.47L333.24,60.96L334.12,60.43L334.99,59.90L335.87,59.36L336.74,58.82L337.62,58.27L338.49,57.72L339.37,57.16L340.24,56.60L341.12,56.03L341.99,55.46L342.87,54.89L343.75,54.31L344.62,53.73L345.50,53.15L346.37,52.57L347.25,51.98L348.12,51.39L349.00,50.81L349.87,50.22L350.75,49.63L351.62,49.04L352.50,48.45L353.37,47.86L354.25,47.27L355.12,46.68L356.00,46.09L356.88,45.50L357.75,44.91L358.63,44.33L359.50,43.74L360.38,43.16L361.25,42.58L362.13,42.01L363.00,41.43L363.88,40.86L364.75,40.29L365.63,39.73L366.50,39.16L367.38,38.60L368.25,38.05L369.13,37.50L370.01,36.95L370.88,36.41L371.76,35.87L372.63,35.33L373.51,34.80L374.38,34.28L375.26,33.76L376.13,33.24L377.01,32.73L377.88,32.23L378.76,31.73L379.63,31.23L380.51,30.75L381.38,30.26L382.26,29.79L383.14,29.32L384.01,28.85L384.89,28.40L385.76,27.94L386.64,27.50L387.51,27.06L388.39,26.63L389.26,26.20L390.14,25.79L391.01,25.37L391.89,24.97L392.76,24.57L393.64,24.18L394.52,23.80L395.39,23.43L396.27,23.06L397.14,22.70L398.02,22.34L398.89,22.00L399.77,21.66L400.64,21.33L401.52,21.01L402.39,20.69L403.27,20.39L404.14,20.09L405.02,19.80L405.89,19.52L406.77,19.24L407.65,18.98L408.52,18.72L409.40,18.47L410.27,18.23L411.15,17.99L412.02,17.77L412.90,17.55L413.77,17.34L414.65,17.14L415.52,16.95L416.40,16.77L417.27,16.59L418.15,16.43L419.02,16.27L419.90,16.12L420.78,15.98L421.65,15.85L422.53,15.73L423.40,15.62L424.28,15.51L425.15,15.41L426.03,15.33L426.90,15.25L427.78,15.18L428.65,15.12L429.53,15.06L430.40,15.02L431.28,14.98L432.15,14.96L433.03,14.94L433.91,14.93L434.78,14.93L435.66,14.94L436.53,14.96L437.41,14.99L438.28,15.02L439.16,15.06L440.03,15.12L440.91,15.18L441.78,15.25L442.66,15.33L443.53,15.42L444.41,15.51L445.28,15.62L446.16,15.73L447.04,15.85L447.91,15.99L448.79,16.13L449.66,16.27L450.54,16.43L451.41,16.60L452.29,16.77L453.16,16.95L454.04,17.15L454.91,17.35L455.79,17.55L456.66,17.77L457.54,18.00L458.42,18.23L459.29,18.47L460.17,18.72L461.04,18.98L461.92,19.25L462.79,19.52L463.67,19.80L464.54,20.09L465.42,20.39L466.29,20.70L467.17,21.01L468.04,21.34L468.92,21.67L469.79,22.00L470.67,22.35L471.55,22.70L472.42,23.06L473.30,23.43L474.17,23.81L475.05,24.19L475.92,24.58L476.80,24.98L477.67,25.38L478.55,25.79L479.42,26.21L480.30,26.64L481.17,27.07L482.05,27.51L482.92,27.95L483.80,28.40L484.68,28.86L485.55,29.32L486.43,29.79L487.30,30.27L488.18,30.75L489.05,31.24L489.93,31.73L490.80,32.23L491.68,32.74L492.55,33.25L493.43,33.76L494.30,34.28L495.18,34.81L496.05,35.34L496.93,35.87L497.81,36.41L498.68,36.96L499.56,37.50L500.43,38.06L501.31,38.61L502.18,39.17L503.06,39.73L503.93,40.30L504.81,40.87L505.68,41.44L506.56,42.01L507.43,42.59L508.31,43.17L509.18,43.75L510.06,44.34L510.94,44.92L511.81,45.51L512.69,46.10L513.56,46.69L514.44,47.27L515.31,47.87L516.19,48.46L517.06,49.05L517.94,49.64L518.81,50.23L519.69,50.82L520.56,51.40L521.44,51.99L522.32,52.58L523.19,53.16L524.07,53.74L524.94,54.32L525.82,54.89L526.69,55.47L527.57,56.04L528.44,56.60L529.32,57.17L530.19,57.72L531.07,58.28L531.94,58.83L532.82,59.37L533.69,59.91L534.57,60.44L535.45,60.96L536.32,61.48L537.20,61.99L538.07,62.50L538.95,63.00L539.82,63.49L540.70,63.97L541.57,64.44L542.45,64.90L543.32,65.36L544.20,65.80L545.07,66.24L545.95,66.66L546.82,67.08L547.70,67.48L548.58,67.87L549.45,68.25L550.33,68.62L551.20,68.98L552.08,69.32L552.95,69.65L553.83,69.97L554.70,70.28L555.58,70.57L556.45,70.85L557.33,71.11L558.20,71.36L559.08,71.60L559.95,71.82L560.83,72.03L561.71,72.22L562.58,72.39L563.46,72.55L564.33,72.70L565.21,72.83L566.08,72.94L566.96,73.04L567.83,73.12L568.71,73.18L569.58,73.23L570.46,73.27L571.33,73.28L572.21,73.28L573.08,73.27L573.96,73.24L574.84,73.19L575.71,73.12L576.59,73.04L577.46,72.95L578.34,72.84L579.21,72.71L580.09,72.56L580.96,72.41L581.84,72.23L582.71,72.04L583.59,71.84L584.46,71.62L585.34,71.38L586.22,71.13L587.09,70.87L587.97,70.59L588.84,70.30L589.72,70.00L590.59,69.68L591.47,69.35L592.34,69.00L593.22,68.65L594.09,68.28L594.97,67.90L595.84,67.51L596.72,67.11L597.59,66.69L598.47,66.27L599.35,65.84L600.22,65.39L601.10,64.94L601.97,64.47L602.85,64.00L603.72,63.52L604.60,63.03L605.47,62.54L606.35,62.03L607.22,61.52L608.10,61.00L608.97,60.48L609.85,59.95L610.72,59.41L611.60,58.87L612.48,58.32L613.35,57.76L614.23,57.21L615.10,56.64L615.98,56.08L616.85,55.51L617.73,54.94L618.60,54.36L619.48,53.78L620.35,53.20L621.23,52.62L622.10,52.03L622.98,51.45L623.85,50.86L624.73,50.27L625.61,49.68L626.48,49.09L627.36,48.50L628.23,47.91L629.11,47.32L629.98,46.73L630.86,46.14L631.73,45.55L632.61,44.96L633.48,44.38L634.36,43.80L635.23,43.21L636.11,42.63L636.98,42.06L637.86,41.48L638.74,40.91L639.61,40.34L640.49,39.78L641.36,39.21L642.24,38.65L643.11,38.10L643.99,37.55L644.86,37.00L645.74,36.45L646.61,35.91L647.49,35.38L648.36,34.85L649.24,34.32L650.12,33.80L650.99,33.29L651.87,32.78L652.74,32.27L653.62,31.77L654.49,31.28L655.37,30.79L656.24,30.31L657.12,29.83L657.99,29.36L658.87,28.89L659.74,28.44L660.62,27.98L661.49,27.54L662.37,27.10L663.25,26.67L664.12,26.24L665.00,25.82L665.87,25.41L666.75,25.01L667.62,24.61L668.50,24.22L669.37,23.83L670.25,23.46L671.12,23.09" stroke="#5a5a5a" stroke-width="0.9" fill="none"/>
<path d="M36.50,174.38L37.38,174.06L38.25,173.73L39.13,173.41L40.00,173.09L40.88,172.77L41.75,172.45L42.63,172.14L43.50,171.82L44.38,171.51L45.25,171.20L46.13,170.89L47.00,170.58L47.88,170.27L48.75,169.96L49.63,169.66L50.51,169.35L51.38,169.05L52.26,168.75L53.13,168.45L54.01,168.15L54.88,167.86L55.76,167.57L56.63,167.27L57.51,166.98L58.38,166.70L59.26,166.41L60.13,166.12L61.01,165.84L61.88,165.56L62.76,165.28L63.64,165.00L64.51,164.72L65.39,164.45L66.26,164.18L67.14,163.90L68.01,163.64L68.89,163.37L69.76,163.10L70.64,162.84L71.51,162.57L72.39,162.31L73.26,162.05L74.14,161.80L75.02,161.54L75.89,161.29L76.77,161.03L77.64,160.78L78.52,160.53L79.39,160.28L80.27,160.04L81.14,159.79L82.02,159.55L82.89,159.31L83.77,159.06L84.64,158.83L85.52,158.59L86.39,158.35L87.27,158.12L88.15,157.88L89.02,157.65L89.90,157.42L90.77,157.19L91.65,156.96L92.52,156.74L93.40,156.51L94.27,156.29L95.15,156.06L96.02,155.84L96.90,155.62L97.77,155.40L98.65,155.18L99.52,154.96L100.40,154.75L101.28,154.53L102.15,154.32L103.03,154.11L103.90,153.89L104.78,153.68L105.65,153.47L106.53,153.27L107.40,153.06L108.28,152.85L109.15,152.64L110.03,152.44L110.90,152.24L111.78,152.03L112.65,151.83L113.53,151.63L114.41,151.43L115.28,151.23L116.16,151.03L117.03,150.83L117.91,150.63L118.78,150.44L119.66,150.24L120.53,150.04L121.41,149.85L122.28,149.65L123.16,149.46L124.03,149.27L124.91,149.08L125.78,148.88L126.66,148.69L127.54,148.50L128.41,148.31L129.29,148.12L130.16,147.93L131.04,147.75L131.91,147.56L132.79,147.37L133.66,147.18L134.54,147.00L135.41,146.81L136.29,146.63L137.16,146.44L138.04,146.25L138.92,146.07L139.79,145.89L140.67,145.70L141.54,145.52L142.42,145.33L143.29,145.15L144.17,144.97L145.04,144.79L145.92,144.60L146.79,144.42L147.67,144.24L148.54,144.06L149.42,143.88L150.29,143.70L151.17,143.51L152.05,143.33L152.92,143.15L153.80,142.97L154.67,142.79L155.55,142.61L156.42,142.43L157.30,142.25L158.17,142.07L159.05,141.89L159.92,141.71L160.80,141.53L161.67,141.35L162.55,141.17L163.42,140.99L164.30,140.80L165.18,140.62L166.05,140.44L166.93,140.26L167.80,140.08L168.68,139.90L169.55,139.72L170.43,139.54L171.30,139.35L172.18,139.17L173.05,138.99L173.93,138.81L174.80,138.63L175.68,138.44L176.55,138.26L177.43,138.08L178.31,137.89L179.18,137.71L180.06,137.52L180.93,137.34L181.81,137.15L182.68,136.97L183.56,136.78L184.43,136.60L185.31,136.41L186.18,136.22L187.06,136.04L187.93,135.85L188.81,135.66L189.68,135.47L190.56,135.28L191.44,135.09L192.31,134.90L193.19,134.71L194.06,134.52L194.94,134.32L195.81,134.13L196.69,133.94L197.56,133.74L198.44,133.55L199.31,133.35L200.19,133.16L201.06,132.96L201.94,132.76L202.82,132.56L203.69,132.36L204.57,132.16L205.44,131.96L206.32,131.76L207.19,131.56L208.07,131.36L208.94,131.15L209.82,130.95L210.69,130.74L211.57,130.53L212.44,130.32L213.32,130.12L214.19,129.91L215.07,129.69L215.95,129.48L216.82,129.27L217.70,129.06L218.57,128.84L219.45,128.62L220.32,128.41L221.20,128.19L222.07,127.97L222.95,127.75L223.82,127.53L224.70,127.30L225.57,127.08L226.45,126.85L227.32,126.62L228.20,126.40L229.08,126.17L229.95,125.94L230.83,125.70L231.70,125.47L232.58,125.23L233.45,125.00L234.33,124.76L235.20,124.52L236.08,124.28L236.95,124.04L237.83,123.79L238.70,123.55L239.58,123.30L240.45,123.05L241.33,122.80L242.21,122.55L243.08,122.30L243.96,122.04L244.83,121.78L245.71,121.53L246.58,121.27L247.46,121.01L248.33,120.74L249.21,120.48L250.08,120.21L250.96,119.94L251.83,119.67L252.71,119.40L253.58,119.13L254.46,118.85L255.34,118.58L256.21,118.30L257.09,118.02L257.96,117.74L258.84,117.45L259.71,117.17L260.59,116.88L261.46,116.59L262.34,116.30L263.21,116.01L264.09,115.71L264.96,115.42L265.84,115.12L266.72,114.82L267.59,114.52L268.47,114.22L269.34,113.92L270.22,113.61L271.09,113.30L271.97,113.00L272.84,112.69L273.72,112.37L274.59,112.06L275.47,111.75L276.34,111.43L277.22,111.11L278.09,110.80L278.97,110.48L279.85,110.16L280.72,109.83L281.60,109.51L282.47,109.19L283.35,108.86L284.22,108.54L285.10,108.21L285.97,107.88L286.85,107.55L287.72,107.23L288.60,183.01L289.47,182.68L290.35,182.35L291.22,182.02L292.10,181.68L292.98,181.35L293.85,181.02L294.73,180.69L295.60,180.35L296.48,180.02L297.35,179.69L298.23,179.35L299.10,179.02L299.98,178.69L300.85,178.36L301.73,178.02L302.60,177.69L303.48,177.36L304.35,177.03L305.23,176.70L306.11,176.37L306.98,176.04L307.86,175.71L308.73,175.39L309.61,175.06L310.48,174.73L311.36,174.41L312.23,174.08L313.11,173.76L313.98,173.44L314.86,173.12L315.73,172.80L316.61,172.48L317.48,172.17L318.36,171.85L319.24,171.54L320.11,171.22L320.99,170.91L321.86,170.60L322.74,170.29L323.61,169.99L324.49,169.68L325.36,169.38L326.24,169.08L327.11,168.78L327.99,168.48L328.86,168.18L329.74,167.89L330.62,167.59L331.49,167.30L332.37,167.01L333.24,166.72L334.12,166.43L334.99,166.15L335.87,165.86L336.74,165.58L337.62,165.30L338.49,165.02L339.37,164.75L340.24,164.47L341.12,164.20L341.99,163.93L342.87,163.66L343.75,163.39L344.62,163.12L345.50,162.86L346.37,162.60L347.25,162.34L348.12,162.08L349.00,161.82L349.87,161.56L350.75,161.31L351.62,161.05L352.50,160.80L353.37,160.55L354.25,160.30L355.12,160.06L356.00,159.81L356.88,159.57L357.75,159.33L358.63,159.09L359.50,158.85L360.38,158.61L361.25,158.37L362.13,158.14L363.00,157.90L363.88,157.67L364.75,157.44L365.63,157.21L366.50,156.98L367.38,156.76L368.25,156.53L369.13,156.30L370.01,156.08L370.88,155.86L371.76,155.64L372.63,155.42L373.51,155.20L374.38,154.98L375.26,154.77L376.13,154.55L377.01,154.34L377.88,154.13L378.76,153.91L379.63,153.70L380.51,153.49L381.38,153.28L382.26,153.08L383.14,152.87L384.01,152.66L384.89,152.46L385.76,152.25L386.64,152.05L387.51,151.85L388.39,151.65L389.26,151.45L390.14,151.25L391.01,151.05L391.89,150.85L392.76,150.65L393.64,150.45L394.52,150.26L395.39,150.06L396.27,149.87L397.14,149.67L398.02,149.48L398.89,149.29L399.77,149.09L400.64,148.90L401.52,148.71L402.39,148.52L403.27,148.33L404.14,148.14L405.02,147.95L405.89,147.76L406.77,147.57L407.65,147.39L408.52,147.20L409.40,147.01L410.27,146.83L411.15,146.64L412.02,146.46L412.90,146.27L413.77,146.09L414.65,145.90L415.52,145.72L416.40,145.53L417.27,145.35L418.15,145.17L419.02,144.99L419.90,144.80L420.78,144.62L421.65,144.44L422.53,144.26L423.40,144.07L424.28,143.89L425.15,143.71L426.03,143.53L426.90,143.35L427.78,143.17L428.65,142.99L429.53,142.81L430.40,142.63L431.28,142.45L432.15,142.26L433.03,142.08L433.91,141.90L434.78,141.72L435.66,141.54L436.53,141.36L437.41,141.18L438.28,141.00L439.16,140.82L440.03,140.64L440.91,140.46L441.78,140.28L442.66,140.10L443.53,139.92L444.41,139.73L445.28,139.55L446.16,139.37L447.04,139.19L447.91,139.01L448.79,138.82L449.66,138.64L450.54,138.46L451.41,138.28L452.29,138.09L453.16,137.91L454.04,137.72L454.91,137.54L455.79,137.36L456.66,137.17L457.54,136.99L458.42,136.80L459.29,136.61L460.17,136.43L461.04,136.24L461.92,136.05L462.79,135.86L463.67,135.68L464.54,135.49L465.42,135.30L466.29,135.11L467.17,134.92L468.04,134.73L468.92,134.53L469.79,134.34L470.67,134.15L471.55,133.95L472.42,133.76L473.30,133.57L474.17,133.37L475.05,133.17L475.92,132.98L476.80,132.78L477.67,132.58L478.55,132.38L479.42,132.18L480.30,131.98L481.17,131.78L482.05,131.58L482.92,131.37L483.80,131.17L484.68,130.96L485.55,130.76L486.43,130.55L487.30,130.34L488.18,130.13L489.05,129.92L489.93,129.71L490.80,129.50L491.68,129.29L492.55,129.07L493.43,128.86L494.30,128.64L495.18,128.43L496.05,128.21L496.93,127.99L497.81,127.77L498.68,127.54L499.56,127.32L500.43,127.10L501.31,126.87L502.18,126.64L503.06,126.42L503.93,126.19L504.81,125.96L505.68,125.72L506.56,125.49L507.43,125.25L508.31,125.02L509.18,124.78L510.06,124.54L510.94,124.30L511.81,124.06L512.69,123.81L513.56,123.57L514.44,123.32L515.31,123.07L516.19,122.82L517.06,122.57L517.94,122.32L518.81,122.06L519.69,121.81L520.56,121.55L521.44,121.29L522.32,121.03L523.19,120.77L524.07,120.50L524.94,120.23L525.82,119.97L526.69,119.70L527.57,119.43L528.44,119.15L529.32,118.88L530.19,118.60L531.07,118.32L531.94,118.04L532.82,117.76L533.69,117.48L534.57,117.19L535.45,116.91L536.32,116.62L537.20,116.33L538.07,116.03L538.95,115.74L539.82,115.44L540.70,115.15L541.57,114.85L542.45,114.55L543.32,114.25L544.20,113.94L545.07,113.64L545.95,113.33L546.82,113.02L547.70,112.71L548.58,112.40L549.45,112.09L550.33,111.77L551.20,111.46L552.08,111.14L552.95,110.82L553.83,110.51L554.70,110.18L555.58,109.86L556.45,109.54L557.33,109.22L558.20,108.89L559.08,108.57L559.95,108.24L560.83,107.91L561.71,107.58L562.58,107.25L563.46,183.04L564.33,182.71L565.21,182.38L566.08,182.05L566.96,181.71L567.83,181.38L568.71,181.05L569.58,180.72L570.46,180.38L571.33,180.05L572.21,179.72L573.08,179.38L573.96,179.05L574.84,178.72L575.71,178.39L576.59,178.05L577.46,177.72L578.34,177.39L579.21,177.06L580.09,176.73L580.96,176.40L581.84,176.07L582.71,175.74L583.59,175.41L584.46,175.09L585.34,174.76L586.22,174.44L587.09,174.11L587.97,173.79L588.84,173.47L589.72,173.15L590.59,172.83L591.47,172.51L592.34,172.19L593.22,171.88L594.09,171.56L594.97,171.25L595.84,170.94L596.72,170.63L597.59,170.32L598.47,170.01L599.35,169.71L600.22,169.41L601.10,169.10L601.97,168.80L602.85,168.50L603.72,168.21L604.60,167.91L605.47,167.62L606.35,167.33L607.22,167.03L608.10,166.75L608.97,166.46L609.85,166.17L610.72,165.89L611.60,165.61L612.48,165.33L613.35,165.05L614.23,164.77L615.10,164.50L615.98,164.22L616.85,163.95L617.73,163.68L618.60,163.41L619.48,163.15L620.35,162.88L621.23,162.62L622.10,162.36L622.98,162.10L623.85,161.84L624.73,161.58L625.61,161.33L626.48,161.08L627.36,160.83L628.23,160.57L629.11,160.33L629.98,160.08L630.86,159.83L631.73,159.59L632.61,159.35L633.48,159.11L634.36,158.87L635.23,158.63L636.11,158.39L636.98,158.16L637.86,157.92L638.74,157.69L639.61,157.46L640.49,157.23L641.36,157.00L642.24,156.78L643.11,156.55L643.99,156.32L644.86,156.10L645.74,155.88L646.61,155.66L647.49,155.44L648.36,155.22L649.24,155.00L650.12,154.79L650.99,154.57L651.87,154.36L652.74,154.14L653.62,153.93L654.49,153.72L655.37,153.51L656.24,153.30L657.12,153.09L657.99,152.89L658.87,152.68L659.74,152.48L660.62,152.27L661.49,152.07L662.37,151.87L663.25,151.66L664.12,151.46L665.00,151.26L665.87,151.06L666.75,150.87L667.62,150.67L668.50,150.47L669.37,150.27L670.25,150.08L671.12,149.88" stroke="#5a5a5a" stroke-width="0.9" fill="none"/>
<path d="M36.50,247.55L37.38,247.30L38.25,247.06L39.13,246.83L40.00,246.61L40.88,246.40L41.75,246.19L42.63,245.99L43.50,245.80L44.38,245.62L45.25,245.44L46.13,245.26L47.00,245.10L47.88,244.93L48.75,244.77L49.63,244.62L50.51,244.47L51.38,244.32L52.26,244.18L53.13,244.04L54.01,243.90L54.88,243.76L55.76,243.63L56.63,243.50L57.51,243.37L58.38,243.25L59.26,243.13L60.13,243.00L61.01,242.88L61.88,242.77L62.76,242.65L63.64,242.53L64.51,242.42L65.39,242.31L66.26,242.19L67.14,242.08L68.01,241.97L68.89,241.86L69.76,241.75L70.64,241.64L71.51,241.53L72.39,241.42L73.26,241.31L74.14,241.21L75.02,241.10L75.89,240.99L76.77,240.88L77.64,240.77L78.52,240.66L79.39,240.55L80.27,240.44L81.14,240.33L82.02,240.21L82.89,240.10L83.77,239.99L84.64,239.87L85.52,239.76L86.39,239.64L87.27,239.52L88.15,239.40L89.02,239.28L89.90,239.15L90.77,239.03L91.65,238.90L92.52,238.77L93.40,238.64L94.27,238.51L95.15,238.37L96.02,238.23L96.90,238.09L97.77,237.95L98.65,237.80L99.52,237.65L100.40,237.50L101.28,237.35L102.15,237.19L103.03,237.02L103.90,236.86L104.78,236.69L105.65,236.51L106.53,236.34L107.40,236.15L108.28,235.96L109.15,235.77L110.03,235.57L110.90,235.37L111.78,235.16L112.65,234.95L113.53,234.73L114.41,234.50L115.28,234.27L116.16,234.03L117.03,233.79L117.91,233.54L118.78,233.28L119.66,233.01L120.53,232.74L121.41,232.46L122.28,232.17L123.16,231.87L124.03,231.57L124.91,231.26L125.78,230.94L126.66,230.61L127.54,230.27L128.41,229.93L129.29,229.58L130.16,229.22L131.04,228.85L131.91,228.48L132.79,228.10L133.66,227.72L134.54,227.33L135.41,226.93L136.29,226.53L137.16,226.13L138.04,225.72L138.92,225.31L139.79,224.90L140.67,224.49L141.54,224.08L142.42,223.67L143.29,223.26L144.17,222.86L145.04,222.46L145.92,222.06L146.79,221.66L147.67,221.27L148.54,220.89L149.42,220.51L150.29,220.14L151.17,219.77L152.05,219.41L152.92,219.06L153.80,218.72L154.67,218.38L155.55,218.06L156.42,217.74L157.30,217.42L158.17,217.12L159.05,216.82L159.92,216.53L160.80,216.25L161.67,215.98L162.55,215.71L163.42,215.46L164.30,215.20L165.18,214.96L166.05,214.72L166.93,214.49L167.80,214.26L168.68,214.04L169.55,213.83L170.43,213.62L171.30,213.42L172.18,213.22L173.05,213.02L173.93,212.84L174.80,212.65L175.68,212.47L176.55,212.30L177.43,212.13L178.31,211.96L179.18,211.80L180.06,211.64L180.93,211.49L181.81,211.33L182.68,211.18L183.56,211.04L184.43,210.90L185.31,210.75L186.18,210.62L187.06,210.48L187.93,210.35L188.81,210.22L189.68,210.09L190.56,209.97L191.44,209.84L192.31,209.72L193.19,209.60L194.06,209.48L194.94,209.36L195.81,209.25L196.69,209.13L197.56,209.02L198.44,208.91L199.31,208.80L200.19,208.69L201.06,208.58L201.94,208.48L202.82,208.37L203.69,208.27L204.57,208.16L205.44,208.06L206.32,207.96L207.19,207.86L208.07,207.76L208.94,207.66L209.82,207.56L210.69,207.46L211.57,207.36L212.44,207.26L213.32,207.16L214.19,207.06L215.07,206.96L215.95,206.86L216.82,206.77L217.70,206.67L218.57,282.66L219.45,282.56L220.32,282.46L221.20,282.36L222.07,282.26L222.95,282.16L223.82,282.06L224.70,281.96L225.57,281.86L226.45,281.76L227.32,281.66L228.20,281.55L229.08,281.45L229.95,281.35L230.83,281.24L231.70,281.13L232.58,281.03L233.45,280.92L234.33,280.81L235.20,280.70L236.08,280.59L236.95,280.47L237.83,280.36L238.70,280.24L239.58,280.12L240.45,280.00L241.33,279.88L242.21,279.75L243.08,279.63L243.96,279.50L244.83,279.36L245.71,279.23L246.58,279.09L247.46,278.95L248.33,278.81L249.21,278.66L250.08,278.51L250.96,278.36L251.83,278.20L252.71,278.04L253.58,277.87L254.46,277.70L255.34,277.52L256.21,277.34L257.09,277.15L257.96,276.96L258.84,276.76L259.71,276.55L260.59,276.33L261.46,276.11L262.34,275.88L263.21,275.63L264.09,275.38L264.96,275.12L265.84,274.85L266.72,274.56L267.59,274.26L268.47,273.95L269.34,273.62L270.22,273.27L271.09,272.91L271.97,272.53L272.84,272.13L273.72,271.71L274.59,271.26L275.47,270.80L276.34,270.30L277.22,269.78L278.09,269.24L278.97,268.66L279.85,268.06L280.72,267.43L281.60,266.77L282.47,266.08L283.35,265.37L284.22,264.64L285.10,263.88L285.97,263.12L286.85,262.33L287.72,261.55L288.60,260.76L289.47,259.98L290.35,259.20L291.22,258.44L292.10,257.70L292.98,256.98L293.85,256.29L294.73,255.62L295.60,254.98L296.48,254.37L297.35,253.78L298.23,253.23L299.10,252.70L299.98,252.20L300.85,251.72L301.73,251.27L302.60,250.84L303.48,250.44L304.35,250.05L305.23,249.69L306.11,249.34L306.98,249.01L307.86,248.70L308.73,248.40L309.61,248.11L310.48,247.84L311.36,247.57L312.23,247.32L313.11,247.08L313.98,246.85L314.86,246.63L315.73,246.41L316.61,246.21L317.48,246.01L318.36,245.82L319.24,245.63L320.11,245.45L320.99,245.28L321.86,245.11L322.74,244.95L323.61,244.79L324.49,244.63L325.36,244.48L326.24,244.33L327.11,244.19L327.99,244.05L328.86,243.91L329.74,243.77L330.62,243.64L331.49,243.51L332.37,243.39L333.24,243.26L334.12,243.14L334.99,243.01L335.87,242.89L336.74,242.78L337.62,242.66L338.49,242.54L339.37,242.43L340.24,242.32L341.12,242.20L341.99,242.09L342.87,241.98L343.75,241.87L344.62,241.76L345.50,241.65L346.37,241.54L347.25,241.43L348.12,241.32L349.00,241.21L349.87,241.11L350.75,241.00L351.62,240.89L352.50,240.78L353.37,240.67L354.25,240.56L355.12,240.45L356.00,240.34L356.88,240.22L357.75,240.11L358.63,240.00L359.50,239.88L360.38,239.77L361.25,239.65L362.13,239.53L363.00,239.41L363.88,239.29L364.75,239.16L365.63,239.04L366.50,238.91L367.38,238.78L368.25,238.65L369.13,238.52L370.01,238.38L370.88,238.25L371.76,238.11L372.63,237.96L373.51,237.82L374.38,237.67L375.26,237.52L376.13,237.36L377.01,237.20L377.88,237.04L378.76,236.87L379.63,236.70L380.51,236.53L381.38,236.35L382.26,236.17L383.14,235.98L384.01,235.79L384.89,235.59L385.76,235.39L386.64,235.18L387.51,234.97L388.39,234.75L389.26,234.52L390.14,234.29L391.01,234.06L391.89,233.81L392.76,233.56L393.64,233.30L394.52,233.04L395.39,232.76L396.27,232.48L397.14,232.19L398.02,231.90L398.89,231.59L399.77,231.28L400.64,230.96L401.52,230.64L402.39,230.30L403.27,229.96L404.14,229.61L405.02,229.25L405.89,228.89L406.77,228.51L407.65,228.13L408.52,227.75L409.40,227.36L410.27,226.97L411.15,226.57L412.02,226.16L412.90,225.76L413.77,225.35L414.65,224.94L415.52,224.53L416.40,224.12L417.27,223.71L418.15,223.30L419.02,222.89L419.90,222.49L420.78,222.09L421.65,221.70L422.53,221.31L423.40,220.92L424.28,220.54L425.15,220.17L426.03,219.80L426.90,219.44L427.78,219.09L428.65,218.75L429.53,218.41L430.40,218.08L431.28,217.76L432.15,217.45L433.03,217.15L433.91,216.85L434.78,216.56L435.66,216.28L436.53,216.00L437.41,215.74L438.28,215.48L439.16,215.23L440.03,214.98L440.91,214.74L441.78,214.51L442.66,214.28L443.53,214.06L444.41,213.85L445.28,213.64L446.16,213.43L447.04,213.24L447.91,213.04L448.79,212.85L449.66,212.67L450.54,212.49L451.41,212.32L452.29,212.14L453.16,211.98L454.04,211.81L454.91,211.66L455.79,211.50L456.66,211.35L457.54,211.20L458.42,211.05L459.29,210.91L460.17,210.77L461.04,210.63L461.92,210.49L462.79,210.36L463.67,210.23L464.54,210.10L465.42,209.98L466.29,209.85L467.17,209.73L468.04,209.61L468.92,209.49L469.79,209.37L470.67,209.26L471.55,209.14L472.42,209.03L473.30,208.92L474.17,208.81L475.05,208.70L475.92,208.59L476.80,208.49L477.67,208.38L478.55,208.28L479.42,208.17L480.30,208.07L481.17,207.97L482.05,207.87L482.92,207.76L483.80,207.66L484.68,207.56L485.55,207.46L486.43,207.37L487.30,207.27L488.18,207.17L489.05,207.07L489.93,206.97L490.80,206.87L491.68,206.77L492.55,206.68L493.43,282.66L494.30,282.57L495.18,282.47L496.05,282.37L496.93,282.27L497.81,282.17L498.68,282.07L499.56,281.97L500.43,281.87L501.31,281.77L502.18,281.67L503.06,281.56L503.93,281.46L504.81,281.36L505.68,281.25L506.56,281.14L507.43,281.04L508.31,280.93L509.18,280.82L510.06,280.71L510.94,280.60L511.81,280.48L512.69,280.37L513.56,280.25L514.44,280.13L515.31,280.01L516.19,279.89L517.06,279.76L517.94,279.64L518.81,279.51L519.69,279.38L520.56,279.24L521.44,279.11L522.32,278.97L523.19,278.82L524.07,278.68L524.94,278.53L525.82,278.37L526.69,278.21L527.57,278.05L528.44,277.88L529.32,277.71L530.19,277.54L531.07,277.36L531.94,277.17L532.82,276.97L533.69,276.77L534.57,276.57L535.45,276.35L536.32,276.13L537.20,275.90L538.07,275.66L538.95,275.40L539.82,275.14L540.70,274.87L541.57,274.59L542.45,274.29L543.32,273.98L544.20,273.65L545.07,273.31L545.95,272.95L546.82,272.57L547.70,272.17L548.58,271.75L549.45,271.31L550.33,270.84L551.20,270.35L552.08,269.83L552.95,269.29L553.83,268.72L554.70,268.11L555.58,267.49L556.45,266.83L557.33,266.15L558.20,265.44L559.08,264.70L559.95,263.95L560.83,263.18L561.71,262.40L562.58,261.62L563.46,260.83L564.33,260.05L565.21,259.27L566.08,258.51L566.96,257.77L567.83,257.05L568.71,256.35L569.58,255.68L570.46,255.03L571.33,254.42L572.21,253.83L573.08,253.27L573.96,252.74L574.84,252.24L575.71,251.76L576.59,251.31L577.46,250.88L578.34,250.47L579.21,250.09L580.09,249.72L580.96,249.37L581.84,249.04L582.71,248.72L583.59,248.42L584.46,248.13L585.34,247.86L586.22,247.60L587.09,247.34L587.97,247.10L588.84,246.87L589.72,246.65L590.59,246.43L591.47,246.23L592.34,246.03L593.22,245.84L594.09,245.65L594.97,245.47L595.84,245.29L596.72,245.12L597.59,244.96L598.47,244.80L599.35,244.65L600.22,244.49L601.10,244.35L601.97,244.20L602.85,244.06L603.72,243.92L604.60,243.79L605.47,243.65L606.35,243.52L607.22,243.40L608.10,243.27L608.97,243.15L609.85,243.03L610.72,242.91L611.60,242.79L612.48,242.67L613.35,242.55L614.23,242.44L615.10,242.33L615.98,242.21L616.85,242.10L617.73,241.99L618.60,241.88L619.48,241.77L620.35,241.66L621.23,241.55L622.10,241.44L622.98,241.33L623.85,241.22L624.73,241.12L625.61,241.01L626.48,240.90L627.36,240.79L628.23,240.68L629.11,240.57L629.98,240.46L630.86,240.35L631.73,240.23L632.61,240.12L633.48,240.01L634.36,239.89L635.23,239.78L636.11,239.66L636.98,239.54L637.86,239.42L638.74,239.30L639.61,239.17L640.49,239.05L641.36,238.92L642.24,238.79L643.11,238.66L643.99,238.53L644.86,238.40L645.74,238.26L646.61,238.12L647.49,237.98L648.36,237.83L649.24,237.68L650.12,237.53L650.99,237.37L651.87,237.22L652.74,237.05L653.62,236.89L654.49,236.72L655.37,236.55L656.24,236.37L657.12,236.18L657.99,236.00L658.87,235.81L659.74,235.61L660.62,235.41L661.49,235.20L662.37,234.99L663.25,234.77L664.12,234.54L665.00,234.31L665.87,234.08L666.75,233.83L667.62,233.58L668.50,233.32L669.37,233.06L670.25,232.79L671.12,232.51" stroke="#5a5a5a" stroke-width="0.9" fill="none"/>
<path d="M36.50,325.94L37.38,326.47L38.25,326.99L39.13,327.53L40.00,328.06L40.88,328.59L41.75,329.13L42.63,329.67L43.50,330.20L44.38,330.74L45.25,331.28L46.13,331.82L47.00,332.36L47.88,332.90L48.75,333.44L49.63,333.97L50.51,334.51L51.38,335.04L52.26,335.57L53.13,336.11L54.01,336.64L54.88,337.16L55.76,337.69L56.63,338.22L57.51,338.74L58.38,339.26L59.26,339.78L60.13,340.29L61.01,340.81L61.88,341.32L62.76,341.82L63.64,342.33L64.51,342.83L65.39,343.33L66.26,343.83L67.14,344.33L68.01,344.82L68.89,345.31L69.76,345.79L70.64,346.28L71.51,346.76L72.39,347.24L73.26,347.71L74.14,348.18L75.02,348.65L75.89,349.11L76.77,349.57L77.64,350.03L78.52,350.49L79.39,350.94L80.27,351.39L81.14,351.83L82.02,352.28L82.89,352.71L83.77,353.15L84.64,353.58L85.52,354.01L86.39,354.43L87.27,354.85L88.15,355.27L89.02,355.69L89.90,356.10L90.77,356.50L91.65,356.91L92.52,357.31L93.40,357.70L94.27,358.09L95.15,358.48L96.02,358.87L96.90,359.25L97.77,359.62L98.65,360.00L99.52,360.37L100.40,360.73L101.28,361.09L102.15,361.45L103.03,361.80L103.90,362.15L104.78,362.49L105.65,362.83L106.53,363.16L107.40,363.49L108.28,363.82L109.15,364.14L110.03,364.45L110.90,364.76L111.78,365.07L112.65,365.37L113.53,365.66L114.41,365.95L115.28,366.23L116.16,366.51L117.03,366.78L117.91,367.04L118.78,367.30L119.66,367.55L120.53,367.79L121.41,368.02L122.28,368.25L123.16,368.47L124.03,368.69L124.91,368.89L125.78,369.09L126.66,369.27L127.54,369.45L128.41,369.62L129.29,369.78L130.16,369.93L131.04,370.07L131.91,370.20L132.79,370.31L133.66,370.42L134.54,370.52L135.41,370.60L136.29,370.68L137.16,370.74L138.04,370.79L138.92,370.83L139.79,370.86L140.67,370.87L141.54,370.88L142.42,370.87L143.29,370.85L144.17,370.82L145.04,370.78L145.92,370.72L146.79,370.66L147.67,370.58L148.54,370.50L149.42,370.40L150.29,370.30L151.17,370.18L152.05,370.06L152.92,369.93L153.80,369.78L154.67,369.63L155.55,369.47L156.42,369.31L157.30,369.13L158.17,368.95L159.05,368.77L159.92,368.57L160.80,368.37L161.67,368.16L162.55,367.95L163.42,367.73L164.30,367.51L165.18,367.28L166.05,367.04L166.93,366.81L167.80,366.56L168.68,366.32L169.55,366.06L170.43,365.81L171.30,365.55L172.18,365.29L173.05,365.02L173.93,364.75L174.80,364.47L175.68,364.20L176.55,363.92L177.43,363.63L178.31,363.35L179.18,363.06L180.06,362.77L180.93,362.47L181.81,362.18L182.68,361.88L183.56,361.57L184.43,361.27L185.31,360.96L186.18,360.65L187.06,360.34L187.93,360.03L188.81,359.71L189.68,359.39L190.56,359.07L191.44,358.75L192.31,358.43L193.19,358.10L194.06,357.77L194.94,357.44L195.81,357.11L196.69,356.77L197.56,356.44L198.44,356.10L199.31,355.76L200.19,355.41L201.06,355.07L201.94,354.72L202.82,354.37L203.69,354.02L204.57,353.67L205.44,353.31L206.32,352.96L207.19,352.60L208.07,352.24L208.94,351.88L209.82,351.51L210.69,351.15L211.57,350.78L212.44,350.41L213.32,350.03L214.19,349.66L215.07,349.28L215.95,348.90L216.82,348.52L217.70,348.14L218.57,347.76L219.45,347.37L220.32,346.98L221.20,346.59L222.07,346.19L222.95,345.80L223.82,345.40L224.70,345.00L225.57,344.60L226.45,344.20L227.32,343.79L228.20,343.38L229.08,342.97L229.95,342.56L230.83,342.14L231.70,341.73L232.58,341.31L233.45,340.89L234.33,340.46L235.20,340.04L236.08,339.61L236.95,339.18L237.83,338.75L238.70,338.31L239.58,337.88L240.45,337.44L241.33,337.00L242.21,336.55L243.08,336.11L243.96,335.66L244.83,335.21L245.71,334.76L246.58,334.31L247.46,333.86L248.33,333.40L249.21,332.94L250.08,332.48L250.96,332.02L251.83,331.56L252.71,331.09L253.58,330.63L254.46,330.16L255.34,329.70L256.21,329.23L257.09,328.76L257.96,328.29L258.84,327.82L259.71,327.35L260.59,326.89L261.46,326.42L262.34,325.95L263.21,325.48L264.09,325.02L264.96,324.56L265.84,324.10L266.72,323.64L267.59,323.19L268.47,322.74L269.34,322.30L270.22,321.86L271.09,321.43L271.97,321.01L272.84,320.60L273.72,320.19L274.59,319.80L275.47,319.42L276.34,319.05L277.22,318.70L278.09,318.37L278.97,318.06L279.85,317.77L280.72,317.50L281.60,317.25L282.47,317.04L283.35,316.85L284.22,316.70L285.10,316.58L285.97,316.49L286.85,316.44L287.72,316.42L288.60,316.44L289.47,316.50L290.35,316.60L291.22,316.73L292.10,316.90L292.98,317.10L293.85,317.33L294.73,317.59L295.60,317.88L296.48,318.19L297.35,318.53L298.23,318.89L299.10,319.27L299.98,319.67L300.85,320.09L301.73,320.52L302.60,320.96L303.48,321.42L304.35,321.88L305.23,322.36L306.11,322.84L306.98,323.34L307.86,323.84L308.73,324.35L309.61,324.86L310.48,325.37L311.36,325.90L312.23,326.42L313.11,326.95L313.98,327.48L314.86,328.01L315.73,328.55L316.61,329.08L317.48,329.62L318.36,330.16L319.24,330.70L320.11,331.23L320.99,331.77L321.86,332.31L322.74,332.85L323.61,333.39L324.49,333.92L325.36,334.46L326.24,334.99L327.11,335.53L327.99,336.06L328.86,336.59L329.74,337.12L330.62,337.64L331.49,338.17L332.37,338.69L333.24,339.21L334.12,339.73L334.99,340.25L335.87,340.76L336.74,341.27L337.62,341.78L338.49,342.29L339.37,342.79L340.24,343.29L341.12,343.79L341.99,344.28L342.87,344.78L343.75,345.27L344.62,345.75L345.50,346.24L346.37,346.72L347.25,347.19L348.12,347.67L349.00,348.14L349.87,348.61L350.75,349.07L351.62,349.53L352.50,349.99L353.37,350.45L354.25,350.90L355.12,351.35L356.00,351.79L356.88,352.24L357.75,352.68L358.63,353.11L359.50,353.54L360.38,353.97L361.25,354.40L362.13,354.82L363.00,355.23L363.88,355.65L364.75,356.06L365.63,356.47L366.50,356.87L367.38,357.27L368.25,357.67L369.13,358.06L370.01,358.45L370.88,358.83L371.76,359.21L372.63,359.59L373.51,359.96L374.38,360.33L375.26,360.70L376.13,361.06L377.01,361.42L377.88,361.77L378.76,362.12L379.63,362.46L380.51,362.80L381.38,363.13L382.26,363.46L383.14,363.79L384.01,364.11L384.89,364.42L385.76,364.73L386.64,365.04L387.51,365.34L388.39,365.63L389.26,365.92L390.14,366.20L391.01,366.48L391.89,366.75L392.76,367.02L393.64,367.27L394.52,367.52L395.39,367.77L396.27,368.00L397.14,368.23L398.02,368.45L398.89,368.67L399.77,368.87L400.64,369.07L401.52,369.26L402.39,369.44L403.27,369.60L404.14,369.76L405.02,369.91L405.89,370.05L406.77,370.18L407.65,370.30L408.52,370.41L409.40,370.51L410.27,370.60L411.15,370.67L412.02,370.73L412.90,370.79L413.77,370.83L414.65,370.85L415.52,370.87L416.40,370.88L417.27,370.87L418.15,370.85L419.02,370.82L419.90,370.78L420.78,370.73L421.65,370.67L422.53,370.59L423.40,370.51L424.28,370.41L425.15,370.31L426.03,370.19L426.90,370.07L427.78,369.94L428.65,369.80L429.53,369.65L430.40,369.49L431.28,369.32L432.15,369.15L433.03,368.97L433.91,368.78L434.78,368.59L435.66,368.39L436.53,368.18L437.41,367.97L438.28,367.75L439.16,367.53L440.03,367.30L440.91,367.07L441.78,366.83L442.66,366.58L443.53,366.34L444.41,366.09L445.28,365.83L446.16,365.57L447.04,365.31L447.91,365.04L448.79,364.77L449.66,364.50L450.54,364.22L451.41,363.94L452.29,363.66L453.16,363.37L454.04,363.09L454.91,362.79L455.79,362.50L456.66,362.20L457.54,361.90L458.42,361.60L459.29,361.30L460.17,360.99L461.04,360.68L461.92,360.37L462.79,360.06L463.67,359.74L464.54,359.42L465.42,359.10L466.29,358.78L467.17,358.46L468.04,358.13L468.92,357.80L469.79,357.47L470.67,357.14L471.55,356.80L472.42,356.47L473.30,356.13L474.17,355.79L475.05,355.44L475.92,355.10L476.80,354.75L477.67,354.40L478.55,354.05L479.42,353.70L480.30,353.35L481.17,352.99L482.05,352.63L482.92,352.27L483.80,351.91L484.68,351.54L485.55,351.18L486.43,350.81L487.30,350.44L488.18,350.07L489.05,349.69L489.93,349.32L490.80,348.94L491.68,348.56L492.55,348.17L493.43,347.79L494.30,347.40L495.18,347.01L496.05,346.62L496.93,346.23L497.81,345.83L498.68,345.44L499.56,345.04L500.43,344.64L501.31,344.23L502.18,343.83L503.06,343.42L503.93,343.01L504.81,342.60L505.68,342.18L506.56,341.76L507.43,341.35L508.31,340.92L509.18,340.50L510.06,340.08L510.94,339.65L511.81,339.22L512.69,338.79L513.56,338.35L514.44,337.92L515.31,337.48L516.19,337.04L517.06,336.59L517.94,336.15L518.81,335.70L519.69,335.25L520.56,334.80L521.44,334.35L522.32,333.90L523.19,333.44L524.07,332.98L524.94,332.52L525.82,332.06L526.69,331.60L527.57,331.14L528.44,330.67L529.32,330.20L530.19,329.74L531.07,329.27L531.94,328.80L532.82,328.33L533.69,327.86L534.57,327.40L535.45,326.93L536.32,326.46L537.20,325.99L538.07,325.53L538.95,325.06L539.82,324.60L540.70,324.14L541.57,323.68L542.45,323.23L543.32,322.78L544.20,322.34L545.07,321.90L545.95,321.47L546.82,321.05L547.70,320.63L548.58,320.23L549.45,319.83L550.33,319.45L551.20,319.09L552.08,318.73L552.95,318.40L553.83,318.08L554.70,317.79L555.58,317.52L556.45,317.27L557.33,317.06L558.20,316.87L559.08,316.71L559.95,316.58L560.83,316.49L561.71,316.44L562.58,316.42L563.46,316.44L564.33,316.50L565.21,316.59L566.08,316.72L566.96,316.88L567.83,317.08L568.71,317.31L569.58,317.57L570.46,317.85L571.33,318.17L572.21,318.50L573.08,318.86L573.96,319.24L574.84,319.64L575.71,320.05L576.59,320.48L577.46,320.92L578.34,321.38L579.21,321.84L580.09,322.32L580.96,322.80L581.84,323.29L582.71,323.79L583.59,324.30L584.46,324.81L585.34,325.33L586.22,325.85L587.09,326.37L587.97,326.90L588.84,327.43L589.72,327.96L590.59,328.50L591.47,329.03L592.34,329.57L593.22,330.11L594.09,330.65L594.97,331.19L595.84,331.73L596.72,332.26L597.59,332.80L598.47,333.34L599.35,333.88L600.22,334.41L601.10,334.95L601.97,335.48L602.85,336.01L603.72,336.54L604.60,337.07L605.47,337.60L606.35,338.12L607.22,338.65L608.10,339.17L608.97,339.68L609.85,340.20L610.72,340.71L611.60,341.23L612.48,341.73L613.35,342.24L614.23,342.74L615.10,343.25L615.98,343.74L616.85,344.24L617.73,344.73L618.60,345.22L619.48,345.71L620.35,346.19L621.23,346.67L622.10,347.15L622.98,347.63L623.85,348.10L624.73,348.57L625.61,349.03L626.48,349.49L627.36,349.95L628.23,350.41L629.11,350.86L629.98,351.31L630.86,351.76L631.73,352.20L632.61,352.64L633.48,353.07L634.36,353.50L635.23,353.93L636.11,354.36L636.98,354.78L637.86,355.20L638.74,355.61L639.61,356.02L640.49,356.43L641.36,356.84L642.24,357.24L643.11,357.63L643.99,358.02L644.86,358.41L645.74,358.80L646.61,359.18L647.49,359.56L648.36,359.93L649.24,360.30L650.12,360.67L650.99,361.03L651.87,361.38L652.74,361.74L653.62,362.09L654.49,362.43L655.37,362.77L656.24,363.10L657.12,363.43L657.99,363.76L658.87,364.08L659.74,364.40L660.62,364.71L661.49,365.01L662.37,365.31L663.25,365.61L664.12,365.90L665.00,366.18L665.87,366.46L666.75,366.73L667.62,366.99L668.50,367.25L669.37,367.50L670.25,367.75L671.12,367.98" stroke="#5a5a5a" stroke-width="0.9" fill="none"/>
<path d="M88.90,40.89L89.02,40.81L89.90,40.24L90.77,39.68L91.65,39.11L92.52,38.55L93.40,38.00L94.27,37.45L95.15,36.90L96.02,36.36L96.90,35.82L97.77,35.29L98.65,34.76L99.52,34.23L100.40,33.71L101.28,33.20L102.15,32.69L103.03,32.18L103.90,31.68L104.78,31.19L105.65,30.70L106.53,30.22L107.40,29.75L108.28,29.28L109.15,28.81L110.03,28.35L110.90,27.90L111.78,27.46L112.65,27.02L113.53,26.59L114.41,26.17L115.28,25.75L116.16,25.34L117.03,24.93L117.91,24.54L118.78,24.15L119.66,23.77L120.53,23.39L121.41,23.03L122.28,22.67L123.16,22.31L124.03,21.97L124.91,21.63L125.78,21.30L126.66,20.98L127.54,20.67L128.41,20.36L129.29,20.06L130.16,19.77L131.04,19.49L131.91,19.22L132.79,18.95L133.66,18.69L134.54,18.45L135.41,18.20L136.29,17.97L137.16,17.75L138.04,17.53L138.92,17.32L139.79,17.13L140.67,16.94L141.54,16.75L142.42,16.58L143.29,16.42L144.17,16.26L145.04,16.11L145.92,15.97L146.79,15.84L147.67,15.72L148.54,15.61L149.42,15.50L150.29,15.41L151.17,15.32L152.05,15.24L152.92,15.17L153.80,15.11L154.67,15.06L155.55,15.02L156.42,14.98L157.30,14.96L158.17,14.94L159.05,14.93L159.92,14.93L160.80,14.94L161.67,14.96L162.55,14.99L163.42,15.02L164.30,15.07L165.18,15.12L166.05,15.18L166.93,15.26L167.80,15.34L168.68,15.42L169.55,15.52L170.43,15.63L171.30,15.74L172.18,15.87L173.05,16.00L173.93,16.14L174.80,16.29L175.68,16.45L176.55,16.61L177.43,16.79L178.31,16.97L179.18,17.16L180.06,17.36L180.93,17.57L181.81,17.79L182.68,18.02L183.56,18.25L184.43,18.49L185.31,18.74L186.18,19.00L187.06,19.27L187.93,19.54L188.81,19.83L189.68,20.12L190.56,20.42L191.44,20.73L192.31,21.04L193.19,21.36L194.06,21.70L194.94,22.03L195.81,22.38L196.69,22.73L197.56,23.09L198.44,23.46L199.31,23.84L200.19,24.22L201.06,24.61L201.94,25.01L202.82,25.42L203.69,25.83L204.57,26.25L205.44,26.67L206.32,27.11L207.19,27.54L208.07,27.99L208.94,28.44L209.50,28.73M247.00,52.32L247.46,52.63L248.33,53.21L249.21,53.79L250.08,54.37L250.96,54.95L251.83,55.52L252.71,56.09L253.58,56.65L254.46,57.22L255.34,57.77L256.21,58.33L257.09,58.87L257.96,59.42L258.84,59.95L259.71,60.48L260.59,61.01L261.46,61.53L262.34,62.04L263.21,62.54L264.09,63.04L264.96,63.53L265.84,64.01L266.72,64.48L267.59,64.94L268.47,65.40L269.34,65.84L270.22,66.28L271.09,66.70L271.97,67.11L272.84,67.52L273.72,67.91L274.59,68.29L275.47,68.65L276.34,69.01L277.22,69.35L278.09,69.68L278.97,70.00L279.85,70.31L280.72,70.60L281.60,70.87L282.47,71.14L283.35,71.39L284.22,71.62L285.10,71.84L285.97,72.04L286.85,72.23L287.72,72.41L288.60,72.57L289.47,72.71L290.35,72.84L291.22,72.95L292.10,73.05L292.98,73.13L293.85,73.19L294.73,73.24L295.60,73.27L296.48,73.28L297.35,73.28L298.23,73.27L299.10,73.23L299.98,73.18L300.85,73.12L301.73,73.04L302.60,72.94L303.48,72.83L304.35,72.70L305.23,72.55L306.11,72.39L306.98,72.21L307.86,72.02L308.73,71.82L309.61,71.60L310.48,71.36L311.36,71.11L311.50,71.07M365.10,40.07L365.63,39.73L366.50,39.16L367.38,38.60L368.25,38.05L369.13,37.50L370.01,36.95L370.88,36.41L371.76,35.87L372.63,35.33L373.51,34.80L374.38,34.28L375.26,33.76L376.13,33.24L377.01,32.73L377.88,32.23L378.76,31.73L379.63,31.23L380.51,30.75L381.38,30.26L382.26,29.79L383.14,29.32L384.01,28.85L384.89,28.40L385.76,27.94L386.64,27.50L387.51,27.06L388.39,26.63L389.26,26.20L390.14,25.79L391.01,25.37L391.89,24.97L392.76,24.57L393.64,24.18L394.52,23.80L395.39,23.43L396.27,23.06L397.14,22.70L398.02,22.34L398.89,22.00L399.77,21.66L400.64,21.33L401.52,21.01L402.39,20.69L403.27,20.39L404.14,20.09L405.02,19.80L405.89,19.52L406.77,19.24L407.65,18.98L408.52,18.72L409.40,18.47L410.27,18.23L411.15,17.99L412.02,17.77L412.90,17.55L413.77,17.34L414.65,17.14L415.52,16.95L416.40,16.77L417.27,16.59L418.15,16.43L419.02,16.27L419.90,16.12L420.78,15.98L421.65,15.85L422.53,15.73L423.40,15.62L424.28,15.51L425.15,15.41L426.03,15.33L426.90,15.25L427.78,15.18L428.65,15.12L429.53,15.06L430.40,15.02L431.28,14.98L432.15,14.96L433.03,14.94L433.91,14.93L434.78,14.93L435.66,14.94L436.53,14.96L437.41,14.99L438.28,15.02L439.16,15.06L440.03,15.12L440.91,15.18L441.78,15.25L442.66,15.33L443.53,15.42L444.41,15.51L445.28,15.62L446.16,15.73L447.04,15.85L447.91,15.99L448.79,16.13L449.66,16.27L450.54,16.43L451.41,16.60L452.29,16.77L453.16,16.95L454.04,17.15L454.91,17.35L455.79,17.55L456.66,17.77L457.54,18.00L458.42,18.23L459.29,18.47L460.17,18.72L461.04,18.98L461.92,19.25L462.79,19.52L463.67,19.80L464.54,20.09L465.42,20.39L466.29,20.70L467.17,21.01L468.04,21.34L468.92,21.67L469.79,22.00L470.67,22.35L471.55,22.70L472.42,23.06L473.30,23.43L474.17,23.81L475.05,24.19L475.92,24.58L476.80,24.98L477.67,25.38L478.55,25.79L479.42,26.21L480.30,26.64L481.17,27.07L482.05,27.51L482.92,27.95L483.80,28.40L484.50,28.77M521.50,52.03L522.32,52.58L523.19,53.16L524.07,53.74L524.94,54.32L525.82,54.89L526.69,55.47L527.57,56.04L528.44,56.60L529.32,57.17L530.19,57.72L531.07,58.28L531.94,58.83L532.82,59.37L533.69,59.91L534.57,60.44L535.45,60.96L536.32,61.48L537.20,61.99L538.07,62.50L538.95,63.00L539.82,63.49L540.70,63.97L541.57,64.44L542.45,64.90L543.32,65.36L544.20,65.80L545.07,66.24L545.95,66.66L546.82,67.08L547.70,67.48L548.58,67.87L549.45,68.25L550.33,68.62L551.20,68.98L552.08,69.32L552.95,69.65L553.83,69.97L554.70,70.28L555.58,70.57L556.45,70.85L557.33,71.11L558.20,71.36L559.08,71.60L559.95,71.82L560.83,72.03L561.71,72.22L562.58,72.39L563.46,72.55L564.33,72.70L565.21,72.83L566.08,72.94L566.96,73.04L567.83,73.12L568.71,73.18L569.58,73.23L570.46,73.27L571.33,73.28L572.21,73.28L573.08,73.27L573.96,73.24L574.84,73.19L575.71,73.12L576.59,73.04L577.46,72.95L578.34,72.84L579.21,72.71L580.09,72.56L580.96,72.41L581.84,72.23L582.71,72.04L583.59,71.84L584.46,71.62L585.34,71.38L586.22,71.13L586.50,71.05M640.50,39.77L641.36,39.21L642.24,38.65L643.11,38.10L643.99,37.55L644.86,37.00L645.74,36.45L646.61,35.91L647.49,35.38L648.36,34.85L649.24,34.32L650.12,33.80L650.99,33.29L651.87,32.78L652.74,32.27L653.62,31.77L654.49,31.28L655.37,30.79L656.24,30.31L657.12,29.83L657.99,29.36L658.87,28.89L659.74,28.44L660.62,27.98L661.49,27.54L662.37,27.10L663.25,26.67L664.12,26.24L665.00,25.82L665.87,25.41L666.75,25.01L667.62,24.61L668.50,24.22L669.37,23.83L670.25,23.46L671.12,23.09L671.30,23.02" stroke="#ff2200" stroke-width="2.8" fill="none" stroke-linejoin="round" stroke-linecap="round"/>
<path d="M88.90,157.68L89.02,157.65L89.90,157.42L90.77,157.19L91.65,156.96L92.52,156.74L93.40,156.51L94.27,156.29L95.15,156.06L96.02,155.84L96.90,155.62L97.77,155.40L98.65,155.18L99.52,154.96L100.40,154.75L101.28,154.53L102.15,154.32L103.03,154.11L103.90,153.89L104.78,153.68L105.65,153.47L106.53,153.27L107.40,153.06L108.28,152.85L109.15,152.64L110.03,152.44L110.90,152.24L111.78,152.03L112.65,151.83L113.53,151.63L114.41,151.43L115.28,151.23L116.16,151.03L117.03,150.83L117.91,150.63L118.78,150.44L119.66,150.24L120.53,150.04L121.41,149.85L122.28,149.65L123.16,149.46L124.03,149.27L124.91,149.08L125.78,148.88L126.66,148.69L127.54,148.50L128.41,148.31L129.29,148.12L130.16,147.93L131.04,147.75L131.91,147.56L132.79,147.37L133.66,147.18L134.54,147.00L135.41,146.81L136.29,146.63L137.16,146.44L138.04,146.25L138.92,146.07L139.79,145.89L140.67,145.70L141.54,145.52L142.42,145.33L143.29,145.15L144.17,144.97L145.04,144.79L145.92,144.60L146.79,144.42L147.67,144.24L148.54,144.06L149.42,143.88L150.29,143.70L151.17,143.51L152.05,143.33L152.92,143.15L153.80,142.97L154.67,142.79L155.55,142.61L156.42,142.43L157.30,142.25L158.17,142.07L159.05,141.89L159.92,141.71L160.80,141.53L161.67,141.35L162.55,141.17L163.42,140.99L164.30,140.80L165.18,140.62L166.05,140.44L166.93,140.26L167.80,140.08L168.68,139.90L169.55,139.72L170.43,139.54L171.30,139.35L172.18,139.17L173.05,138.99L173.93,138.81L174.80,138.63L175.68,138.44L176.55,138.26L177.43,138.08L178.31,137.89L179.18,137.71L180.06,137.52L180.93,137.34L181.81,137.15L182.68,136.97L183.56,136.78L184.43,136.60L185.31,136.41L186.18,136.22L187.06,136.04L187.93,135.85L188.81,135.66L189.68,135.47L190.56,135.28L191.44,135.09L192.31,134.90L193.19,134.71L194.06,134.52L194.94,134.32L195.81,134.13L196.69,133.94L197.56,133.74L198.44,133.55L199.31,133.35L200.19,133.16L201.06,132.96L201.94,132.76L202.82,132.56L203.69,132.36L204.57,132.16L205.44,131.96L206.32,131.76L207.19,131.56L208.07,131.36L208.94,131.15L209.50,131.02M247.00,121.14L247.46,121.01L248.33,120.74L249.21,120.48L250.08,120.21L250.96,119.94L251.83,119.67L252.71,119.40L253.58,119.13L254.46,118.85L255.34,118.58L256.21,118.30L257.09,118.02L257.96,117.74L258.84,117.45L259.71,117.17L260.59,116.88L261.46,116.59L262.34,116.30L263.21,116.01L264.09,115.71L264.96,115.42L265.84,115.12L266.72,114.82L267.59,114.52L268.47,114.22L269.34,113.92L270.22,113.61L271.09,113.30L271.97,113.00L272.84,112.69L273.72,112.37L274.59,112.06L275.47,111.75L276.34,111.43L277.22,111.11L278.09,110.80L278.97,110.48L279.85,110.16L280.72,109.83L281.60,109.51L282.47,109.19L283.35,108.86L284.22,108.54L285.10,108.21L285.97,107.88L286.85,107.55L287.72,107.23M288.60,183.01L289.47,182.68L290.35,182.35L291.22,182.02L292.10,181.68L292.98,181.35L293.85,181.02L294.73,180.69L295.60,180.35L296.48,180.02L297.35,179.69L298.23,179.35L299.10,179.02L299.98,178.69L300.85,178.36L301.73,178.02L302.60,177.69L303.48,177.36L304.35,177.03L305.23,176.70L306.11,176.37L306.98,176.04L307.86,175.71L308.73,175.39L309.61,175.06L310.48,174.73L311.36,174.41L311.50,174.36M365.10,157.35L365.63,157.21L366.50,156.98L367.38,156.76L368.25,156.53L369.13,156.30L370.01,156.08L370.88,155.86L371.76,155.64L372.63,155.42L373.51,155.20L374.38,154.98L375.26,154.77L376.13,154.55L377.01,154.34L377.88,154.13L378.76,153.91L379.63,153.70L380.51,153.49L381.38,153.28L382.26,153.08L383.14,152.87L384.01,152.66L384.89,152.46L385.76,152.25L386.64,152.05L387.51,151.85L388.39,151.65L389.26,151.45L390.14,151.25L391.01,151.05L391.89,150.85L392.76,150.65L393.64,150.45L394.52,150.26L395.39,150.06L396.27,149.87L397.14,149.67L398.02,149.48L398.89,149.29L399.77,149.09L400.64,148.90L401.52,148.71L402.39,148.52L403.27,148.33L404.14,148.14L405.02,147.95L405.89,147.76L406.77,147.57L407.65,147.39L408.52,147.20L409.40,147.01L410.27,146.83L411.15,146.64L412.02,146.46L412.90,146.27L413.77,146.09L414.65,145.90L415.52,145.72L416.40,145.53L417.27,145.35L418.15,145.17L419.02,144.99L419.90,144.80L420.78,144.62L421.65,144.44L422.53,144.26L423.40,144.07L424.28,143.89L425.15,143.71L426.03,143.53L426.90,143.35L427.78,143.17L428.65,142.99L429.53,142.81L430.40,142.63L431.28,142.45L432.15,142.26L433.03,142.08L433.91,141.90L434.78,141.72L435.66,141.54L436.53,141.36L437.41,141.18L438.28,141.00L439.16,140.82L440.03,140.64L440.91,140.46L441.78,140.28L442.66,140.10L443.53,139.92L444.41,139.73L445.28,139.55L446.16,139.37L447.04,139.19L447.91,139.01L448.79,138.82L449.66,138.64L450.54,138.46L451.41,138.28L452.29,138.09L453.16,137.91L454.04,137.72L454.91,137.54L455.79,137.36L456.66,137.17L457.54,136.99L458.42,136.80L459.29,136.61L460.17,136.43L461.04,136.24L461.92,136.05L462.79,135.86L463.67,135.68L464.54,135.49L465.42,135.30L466.29,135.11L467.17,134.92L468.04,134.73L468.92,134.53L469.79,134.34L470.67,134.15L471.55,133.95L472.42,133.76L473.30,133.57L474.17,133.37L475.05,133.17L475.92,132.98L476.80,132.78L477.67,132.58L478.55,132.38L479.42,132.18L480.30,131.98L481.17,131.78L482.05,131.58L482.92,131.37L483.80,131.17L484.50,131.01M521.50,121.27L522.32,121.03L523.19,120.77L524.07,120.50L524.94,120.23L525.82,119.97L526.69,119.70L527.57,119.43L528.44,119.15L529.32,118.88L530.19,118.60L531.07,118.32L531.94,118.04L532.82,117.76L533.69,117.48L534.57,117.19L535.45,116.91L536.32,116.62L537.20,116.33L538.07,116.03L538.95,115.74L539.82,115.44L540.70,115.15L541.57,114.85L542.45,114.55L543.32,114.25L544.20,113.94L545.07,113.64L545.95,113.33L546.82,113.02L547.70,112.71L548.58,112.40L549.45,112.09L550.33,111.77L551.20,111.46L552.08,111.14L552.95,110.82L553.83,110.51L554.70,110.18L555.58,109.86L556.45,109.54L557.33,109.22L558.20,108.89L559.08,108.57L559.95,108.24L560.83,107.91L561.71,107.58L562.58,107.25M563.46,183.04L564.33,182.71L565.21,182.38L566.08,182.05L566.96,181.71L567.83,181.38L568.71,181.05L569.58,180.72L570.46,180.38L571.33,180.05L572.21,179.72L573.08,179.38L573.96,179.05L574.84,178.72L575.71,178.39L576.59,178.05L577.46,177.72L578.34,177.39L579.21,177.06L580.09,176.73L580.96,176.40L581.84,176.07L582.71,175.74L583.59,175.41L584.46,175.09L585.34,174.76L586.22,174.44L586.50,174.33M640.50,157.23L641.36,157.00L642.24,156.78L643.11,156.55L643.99,156.32L644.86,156.10L645.74,155.88L646.61,155.66L647.49,155.44L648.36,155.22L649.24,155.00L650.12,154.79L650.99,154.57L651.87,154.36L652.74,154.14L653.62,153.93L654.49,153.72L655.37,153.51L656.24,153.30L657.12,153.09L657.99,152.89L658.87,152.68L659.74,152.48L660.62,152.27L661.49,152.07L662.37,151.87L663.25,151.66L664.12,151.46L665.00,151.26L665.87,151.06L666.75,150.87L667.62,150.67L668.50,150.47L669.37,150.27L670.25,150.08L671.12,149.88L671.30,149.84" stroke="#ff2200" stroke-width="2.8" fill="none" stroke-linejoin="round" stroke-linecap="round"/>
<path d="M88.90,239.29L89.02,239.28L89.90,239.15L90.77,239.03L91.65,238.90L92.52,238.77L93.40,238.64L94.27,238.51L95.15,238.37L96.02,238.23L96.90,238.09L97.77,237.95L98.65,237.80L99.52,237.65L100.40,237.50L101.28,237.35L102.15,237.19L103.03,237.02L103.90,236.86L104.78,236.69L105.65,236.51L106.53,236.34L107.40,236.15L108.28,235.96L109.15,235.77L110.03,235.57L110.90,235.37L111.78,235.16L112.65,234.95L113.53,234.73L114.41,234.50L115.28,234.27L116.16,234.03L117.03,233.79L117.91,233.54L118.78,233.28L119.66,233.01L120.53,232.74L121.41,232.46L122.28,232.17L123.16,231.87L124.03,231.57L124.91,231.26L125.78,230.94L126.66,230.61L127.54,230.27L128.41,229.93L129.29,229.58L130.16,229.22L131.04,228.85L131.91,228.48L132.79,228.10L133.66,227.72L134.54,227.33L135.41,226.93L136.29,226.53L137.16,226.13L138.04,225.72L138.92,225.31L139.79,224.90L140.67,224.49L141.54,224.08L142.42,223.67L143.29,223.26L144.17,222.86L145.04,222.46L145.92,222.06L146.79,221.66L147.67,221.27L148.54,220.89L149.42,220.51L150.29,220.14L151.17,219.77L152.05,219.41L152.92,219.06L153.80,218.72L154.67,218.38L155.55,218.06L156.42,217.74L157.30,217.42L158.17,217.12L159.05,216.82L159.92,216.53L160.80,216.25L161.67,215.98L162.55,215.71L163.42,215.46L164.30,215.20L165.18,214.96L166.05,214.72L166.93,214.49L167.80,214.26L168.68,214.04L169.55,213.83L170.43,213.62L171.30,213.42L172.18,213.22L173.05,213.02L173.93,212.84L174.80,212.65L175.68,212.47L176.55,212.30L177.43,212.13L178.31,211.96L179.18,211.80L180.06,211.64L180.93,211.49L181.81,211.33L182.68,211.18L183.56,211.04L184.43,210.90L185.31,210.75L186.18,210.62L187.06,210.48L187.93,210.35L188.81,210.22L189.68,210.09L190.56,209.97L191.44,209.84L192.31,209.72L193.19,209.60L194.06,209.48L194.94,209.36L195.81,209.25L196.69,209.13L197.56,209.02L198.44,208.91L199.31,208.80L200.19,208.69L201.06,208.58L201.94,208.48L202.82,208.37L203.69,208.27L204.57,208.16L205.44,208.06L206.32,207.96L207.19,207.86L208.07,207.76L208.94,207.66L209.50,207.59M247.00,279.03L247.46,278.95L248.33,278.81L249.21,278.66L250.08,278.51L250.96,278.36L251.83,278.20L252.71,278.04L253.58,277.87L254.46,277.70L255.34,277.52L256.21,277.34L257.09,277.15L257.96,276.96L258.84,276.76L259.71,276.55L260.59,276.33L261.46,276.11L262.34,275.88L263.21,275.63L264.09,275.38L264.96,275.12L265.84,274.85L266.72,274.56L267.59,274.26L268.47,273.95L269.34,273.62L270.22,273.27L271.09,272.91L271.97,272.53L272.84,272.13L273.72,271.71L274.59,271.26L275.47,270.80L276.34,270.30L277.22,269.78L278.09,269.24L278.97,268.66L279.85,268.06L280.72,267.43L281.60,266.77L282.47,266.08L283.35,265.37L284.22,264.64L285.10,263.88L285.97,263.12L286.85,262.33L287.72,261.55L288.60,260.76L289.47,259.98L290.35,259.20L291.22,258.44L292.10,257.70L292.98,256.98L293.85,256.29L294.73,255.62L295.60,254.98L296.48,254.37L297.35,253.78L298.23,253.23L299.10,252.70L299.98,252.20L300.85,251.72L301.73,251.27L302.60,250.84L303.48,250.44L304.35,250.05L305.23,249.69L306.11,249.34L306.98,249.01L307.86,248.70L308.73,248.40L309.61,248.11L310.48,247.84L311.36,247.57L311.50,247.53M365.10,239.11L365.63,239.04L366.50,238.91L367.38,238.78L368.25,238.65L369.13,238.52L370.01,238.38L370.88,238.25L371.76,238.11L372.63,237.96L373.51,237.82L374.38,237.67L375.26,237.52L376.13,237.36L377.01,237.20L377.88,237.04L378.76,236.87L379.63,236.70L380.51,236.53L381.38,236.35L382.26,236.17L383.14,235.98L384.01,235.79L384.89,235.59L385.76,235.39L386.64,235.18L387.51,234.97L388.39,234.75L389.26,234.52L390.14,234.29L391.01,234.06L391.89,233.81L392.76,233.56L393.64,233.30L394.52,233.04L395.39,232.76L396.27,232.48L397.14,232.19L398.02,231.90L398.89,231.59L399.77,231.28L400.64,230.96L401.52,230.64L402.39,230.30L403.27,229.96L404.14,229.61L405.02,229.25L405.89,228.89L406.77,228.51L407.65,228.13L408.52,227.75L409.40,227.36L410.27,226.97L411.15,226.57L412.02,226.16L412.90,225.76L413.77,225.35L414.65,224.94L415.52,224.53L416.40,224.12L417.27,223.71L418.15,223.30L419.02,222.89L419.90,222.49L420.78,222.09L421.65,221.70L422.53,221.31L423.40,220.92L424.28,220.54L425.15,220.17L426.03,219.80L426.90,219.44L427.78,219.09L428.65,218.75L429.53,218.41L430.40,218.08L431.28,217.76L432.15,217.45L433.03,217.15L433.91,216.85L434.78,216.56L435.66,216.28L436.53,216.00L437.41,215.74L438.28,215.48L439.16,215.23L440.03,214.98L440.91,214.74L441.78,214.51L442.66,214.28L443.53,214.06L444.41,213.85L445.28,213.64L446.16,213.43L447.04,213.24L447.91,213.04L448.79,212.85L449.66,212.67L450.54,212.49L451.41,212.32L452.29,212.14L453.16,211.98L454.04,211.81L454.91,211.66L455.79,211.50L456.66,211.35L457.54,211.20L458.42,211.05L459.29,210.91L460.17,210.77L461.04,210.63L461.92,210.49L462.79,210.36L463.67,210.23L464.54,210.10L465.42,209.98L466.29,209.85L467.17,209.73L468.04,209.61L468.92,209.49L469.79,209.37L470.67,209.26L471.55,209.14L472.42,209.03L473.30,208.92L474.17,208.81L475.05,208.70L475.92,208.59L476.80,208.49L477.67,208.38L478.55,208.28L479.42,208.17L480.30,208.07L481.17,207.97L482.05,207.87L482.92,207.76L483.80,207.66L484.50,207.58M521.50,279.10L522.32,278.97L523.19,278.82L524.07,278.68L524.94,278.53L525.82,278.37L526.69,278.21L527.57,278.05L528.44,277.88L529.32,277.71L530.19,277.54L531.07,277.36L531.94,277.17L532.82,276.97L533.69,276.77L534.57,276.57L535.45,276.35L536.32,276.13L537.20,275.90L538.07,275.66L538.95,275.40L539.82,275.14L540.70,274.87L541.57,274.59L542.45,274.29L543.32,273.98L544.20,273.65L545.07,273.31L545.95,272.95L546.82,272.57L547.70,272.17L548.58,271.75L549.45,271.31L550.33,270.84L551.20,270.35L552.08,269.83L552.95,269.29L553.83,268.72L554.70,268.11L555.58,267.49L556.45,266.83L557.33,266.15L558.20,265.44L559.08,264.70L559.95,263.95L560.83,263.18L561.71,262.40L562.58,261.62L563.46,260.83L564.33,260.05L565.21,259.27L566.08,258.51L566.96,257.77L567.83,257.05L568.71,256.35L569.58,255.68L570.46,255.03L571.33,254.42L572.21,253.83L573.08,253.27L573.96,252.74L574.84,252.24L575.71,251.76L576.59,251.31L577.46,250.88L578.34,250.47L579.21,250.09L580.09,249.72L580.96,249.37L581.84,249.04L582.71,248.72L583.59,248.42L584.46,248.13L585.34,247.86L586.22,247.60L586.50,247.51M640.50,239.05L641.36,238.92L642.24,238.79L643.11,238.66L643.99,238.53L644.86,238.40L645.74,238.26L646.61,238.12L647.49,237.98L648.36,237.83L649.24,237.68L650.12,237.53L650.99,237.37L651.87,237.22L652.74,237.05L653.62,236.89L654.49,236.72L655.37,236.55L656.24,236.37L657.12,236.18L657.99,236.00L658.87,235.81L659.74,235.61L660.62,235.41L661.49,235.20L662.37,234.99L663.25,234.77L664.12,234.54L665.00,234.31L665.87,234.08L666.75,233.83L667.62,233.58L668.50,233.32L669.37,233.06L670.25,232.79L671.12,232.51L671.30,232.45" stroke="#ff2200" stroke-width="2.8" fill="none" stroke-linejoin="round" stroke-linecap="round"/>
<path d="M88.90,355.63L89.02,355.69L89.90,356.10L90.77,356.50L91.65,356.91L92.52,357.31L93.40,357.70L94.27,358.09L95.15,358.48L96.02,358.87L96.90,359.25L97.77,359.62L98.65,360.00L99.52,360.37L100.40,360.73L101.28,361.09L102.15,361.45L103.03,361.80L103.90,362.15L104.78,362.49L105.65,362.83L106.53,363.16L107.40,363.49L108.28,363.82L109.15,364.14L110.03,364.45L110.90,364.76L111.78,365.07L112.65,365.37L113.53,365.66L114.41,365.95L115.28,366.23L116.16,366.51L117.03,366.78L117.91,367.04L118.78,367.30L119.66,367.55L120.53,367.79L121.41,368.02L122.28,368.25L123.16,368.47L124.03,368.69L124.91,368.89L125.78,369.09L126.66,369.27L127.54,369.45L128.41,369.62L129.29,369.78L130.16,369.93L131.04,370.07L131.91,370.20L132.79,370.31L133.66,370.42L134.54,370.52L135.41,370.60L136.29,370.68L137.16,370.74L138.04,370.79L138.92,370.83L139.79,370.86L140.67,370.87L141.54,370.88L142.42,370.87L143.29,370.85L144.17,370.82L145.04,370.78L145.92,370.72L146.79,370.66L147.67,370.58L148.54,370.50L149.42,370.40L150.29,370.30L151.17,370.18L152.05,370.06L152.92,369.93L153.80,369.78L154.67,369.63L155.55,369.47L156.42,369.31L157.30,369.13L158.17,368.95L159.05,368.77L159.92,368.57L160.80,368.37L161.67,368.16L162.55,367.95L163.42,367.73L164.30,367.51L165.18,367.28L166.05,367.04L166.93,366.81L167.80,366.56L168.68,366.32L169.55,366.06L170.43,365.81L171.30,365.55L172.18,365.29L173.05,365.02L173.93,364.75L174.80,364.47L175.68,364.20L176.55,363.92L177.43,363.63L178.31,363.35L179.18,363.06L180.06,362.77L180.93,362.47L181.81,362.18L182.68,361.88L183.56,361.57L184.43,361.27L185.31,360.96L186.18,360.65L187.06,360.34L187.93,360.03L188.81,359.71L189.68,359.39L190.56,359.07L191.44,358.75L192.31,358.43L193.19,358.10L194.06,357.77L194.94,357.44L195.81,357.11L196.69,356.77L197.56,356.44L198.44,356.10L199.31,355.76L200.19,355.41L201.06,355.07L201.94,354.72L202.82,354.37L203.69,354.02L204.57,353.67L205.44,353.31L206.32,352.96L207.19,352.60L208.07,352.24L208.94,351.88L209.50,351.64M247.00,334.09L247.46,333.86L248.33,333.40L249.21,332.94L250.08,332.48L250.96,332.02L251.83,331.56L252.71,331.09L253.58,330.63L254.46,330.16L255.34,329.70L256.21,329.23L257.09,328.76L257.96,328.29L258.84,327.82L259.71,327.35L260.59,326.89L261.46,326.42L262.34,325.95L263.21,325.48L264.09,325.02L264.96,324.56L265.84,324.10L266.72,323.64L267.59,323.19L268.47,322.74L269.34,322.30L270.22,321.86L271.09,321.43L271.97,321.01L272.84,320.60L273.72,320.19L274.59,319.80L275.47,319.42L276.34,319.05L277.22,318.70L278.09,318.37L278.97,318.06L279.85,317.77L280.72,317.50L281.60,317.25L282.47,317.04L283.35,316.85L284.22,316.70L285.10,316.58L285.97,316.49L286.85,316.44L287.72,316.42L288.60,316.44L289.47,316.50L290.35,316.60L291.22,316.73L292.10,316.90L292.98,317.10L293.85,317.33L294.73,317.59L295.60,317.88L296.48,318.19L297.35,318.53L298.23,318.89L299.10,319.27L299.98,319.67L300.85,320.09L301.73,320.52L302.60,320.96L303.48,321.42L304.35,321.88L305.23,322.36L306.11,322.84L306.98,323.34L307.86,323.84L308.73,324.35L309.61,324.86L310.48,325.37L311.36,325.90L311.50,325.98M365.10,356.22L365.63,356.47L366.50,356.87L367.38,357.27L368.25,357.67L369.13,358.06L370.01,358.45L370.88,358.83L371.76,359.21L372.63,359.59L373.51,359.96L374.38,360.33L375.26,360.70L376.13,361.06L377.01,361.42L377.88,361.77L378.76,362.12L379.63,362.46L380.51,362.80L381.38,363.13L382.26,363.46L383.14,363.79L384.01,364.11L384.89,364.42L385.76,364.73L386.64,365.04L387.51,365.34L388.39,365.63L389.26,365.92L390.14,366.20L391.01,366.48L391.89,366.75L392.76,367.02L393.64,367.27L394.52,367.52L395.39,367.77L396.27,368.00L397.14,368.23L398.02,368.45L398.89,368.67L399.77,368.87L400.64,369.07L401.52,369.26L402.39,369.44L403.27,369.60L404.14,369.76L405.02,369.91L405.89,370.05L406.77,370.18L407.65,370.30L408.52,370.41L409.40,370.51L410.27,370.60L411.15,370.67L412.02,370.73L412.90,370.79L413.77,370.83L414.65,370.85L415.52,370.87L416.40,370.88L417.27,370.87L418.15,370.85L419.02,370.82L419.90,370.78L420.78,370.73L421.65,370.67L422.53,370.59L423.40,370.51L424.28,370.41L425.15,370.31L426.03,370.19L426.90,370.07L427.78,369.94L428.65,369.80L429.53,369.65L430.40,369.49L431.28,369.32L432.15,369.15L433.03,368.97L433.91,368.78L434.78,368.59L435.66,368.39L436.53,368.18L437.41,367.97L438.28,367.75L439.16,367.53L440.03,367.30L440.91,367.07L441.78,366.83L442.66,366.58L443.53,366.34L444.41,366.09L445.28,365.83L446.16,365.57L447.04,365.31L447.91,365.04L448.79,364.77L449.66,364.50L450.54,364.22L451.41,363.94L452.29,363.66L453.16,363.37L454.04,363.09L454.91,362.79L455.79,362.50L456.66,362.20L457.54,361.90L458.42,361.60L459.29,361.30L460.17,360.99L461.04,360.68L461.92,360.37L462.79,360.06L463.67,359.74L464.54,359.42L465.42,359.10L466.29,358.78L467.17,358.46L468.04,358.13L468.92,357.80L469.79,357.47L470.67,357.14L471.55,356.80L472.42,356.47L473.30,356.13L474.17,355.79L475.05,355.44L475.92,355.10L476.80,354.75L477.67,354.40L478.55,354.05L479.42,353.70L480.30,353.35L481.17,352.99L482.05,352.63L482.92,352.27L483.80,351.91L484.50,351.62M521.50,334.32L522.32,333.90L523.19,333.44L524.07,332.98L524.94,332.52L525.82,332.06L526.69,331.60L527.57,331.14L528.44,330.67L529.32,330.20L530.19,329.74L531.07,329.27L531.94,328.80L532.82,328.33L533.69,327.86L534.57,327.40L535.45,326.93L536.32,326.46L537.20,325.99L538.07,325.53L538.95,325.06L539.82,324.60L540.70,324.14L541.57,323.68L542.45,323.23L543.32,322.78L544.20,322.34L545.07,321.90L545.95,321.47L546.82,321.05L547.70,320.63L548.58,320.23L549.45,319.83L550.33,319.45L551.20,319.09L552.08,318.73L552.95,318.40L553.83,318.08L554.70,317.79L555.58,317.52L556.45,317.27L557.33,317.06L558.20,316.87L559.08,316.71L559.95,316.58L560.83,316.49L561.71,316.44L562.58,316.42L563.46,316.44L564.33,316.50L565.21,316.59L566.08,316.72L566.96,316.88L567.83,317.08L568.71,317.31L569.58,317.57L570.46,317.85L571.33,318.17L572.21,318.50L573.08,318.86L573.96,319.24L574.84,319.64L575.71,320.05L576.59,320.48L577.46,320.92L578.34,321.38L579.21,321.84L580.09,322.32L580.96,322.80L581.84,323.29L582.71,323.79L583.59,324.30L584.46,324.81L585.34,325.33L586.22,325.85L586.50,326.02M640.50,356.44L641.36,356.84L642.24,357.24L643.11,357.63L643.99,358.02L644.86,358.41L645.74,358.80L646.61,359.18L647.49,359.56L648.36,359.93L649.24,360.30L650.12,360.67L650.99,361.03L651.87,361.38L652.74,361.74L653.62,362.09L654.49,362.43L655.37,362.77L656.24,363.10L657.12,363.43L657.99,363.76L658.87,364.08L659.74,364.40L660.62,364.71L661.49,365.01L662.37,365.31L663.25,365.61L664.12,365.90L665.00,366.18L665.87,366.46L666.75,366.73L667.62,366.99L668.50,367.25L669.37,367.50L670.25,367.75L671.12,367.98L671.30,368.03" stroke="#ff2200" stroke-width="2.8" fill="none" stroke-linejoin="round" stroke-linecap="round"/>
<path d="M210.9,3.5V386.5" stroke="#1f77c0" stroke-width="2" stroke-dasharray="5.75 5.03" fill="none"/>
<path d="M245.5,3.5V386.5" stroke="#1f77c0" stroke-width="2" stroke-dasharray="5.75 5.03" fill="none"/>
<path d="M312.9,3.5V386.8" stroke="#13b158" stroke-width="2" stroke-dasharray="5.75 5.03" fill="none"/>
<path d="M363.6,3.5V386.5" stroke="#13b158" stroke-width="2" stroke-dasharray="5.75 5.03" fill="none"/>
<path d="M486.0,3.9V387.6" stroke="#1f77c0" stroke-width="2" stroke-dasharray="5.75 5.03" fill="none"/>
<path d="M519.9,2.2V382.8" stroke="#1f77c0" stroke-width="2" stroke-dasharray="5.75 5.03" fill="none"/>
<path d="M587.9,3.6V386.8" stroke="#13b158" stroke-width="2" stroke-dasharray="5.75 5.03" fill="none"/>
<path d="M639.0,3.6V386.3" stroke="#13b158" stroke-width="2" stroke-dasharray="5.75 5.03" fill="none"/>
<text transform="translate(235.1,259.98) rotate(-90)" x="0" y="0" font-family="Liberation Sans" font-weight="bold" font-size="20.8" fill="#0070c0" textLength="128.5" lengthAdjust="spacingAndGlyphs">Galactic plane</text>
<text transform="translate(509.7,251.68) rotate(-90)" x="0" y="0" font-family="Liberation Sans" font-weight="bold" font-size="20.8" fill="#0070c0" textLength="128.5" lengthAdjust="spacingAndGlyphs">Galactic plane</text>
<text transform="translate(342.9,257.68) rotate(-90)" x="0" y="0" font-family="Liberation Sans" font-weight="bold" font-size="20.8" fill="#00b050" textLength="135.9" lengthAdjust="spacingAndGlyphs">Galactic center</text>
<text transform="translate(620.0,259.88) rotate(-90)" x="0" y="0" font-family="Liberation Sans" font-weight="bold" font-size="20.8" fill="#00b050" textLength="135.9" lengthAdjust="spacingAndGlyphs">Galactic center</text>
</svg>
</body></html>
